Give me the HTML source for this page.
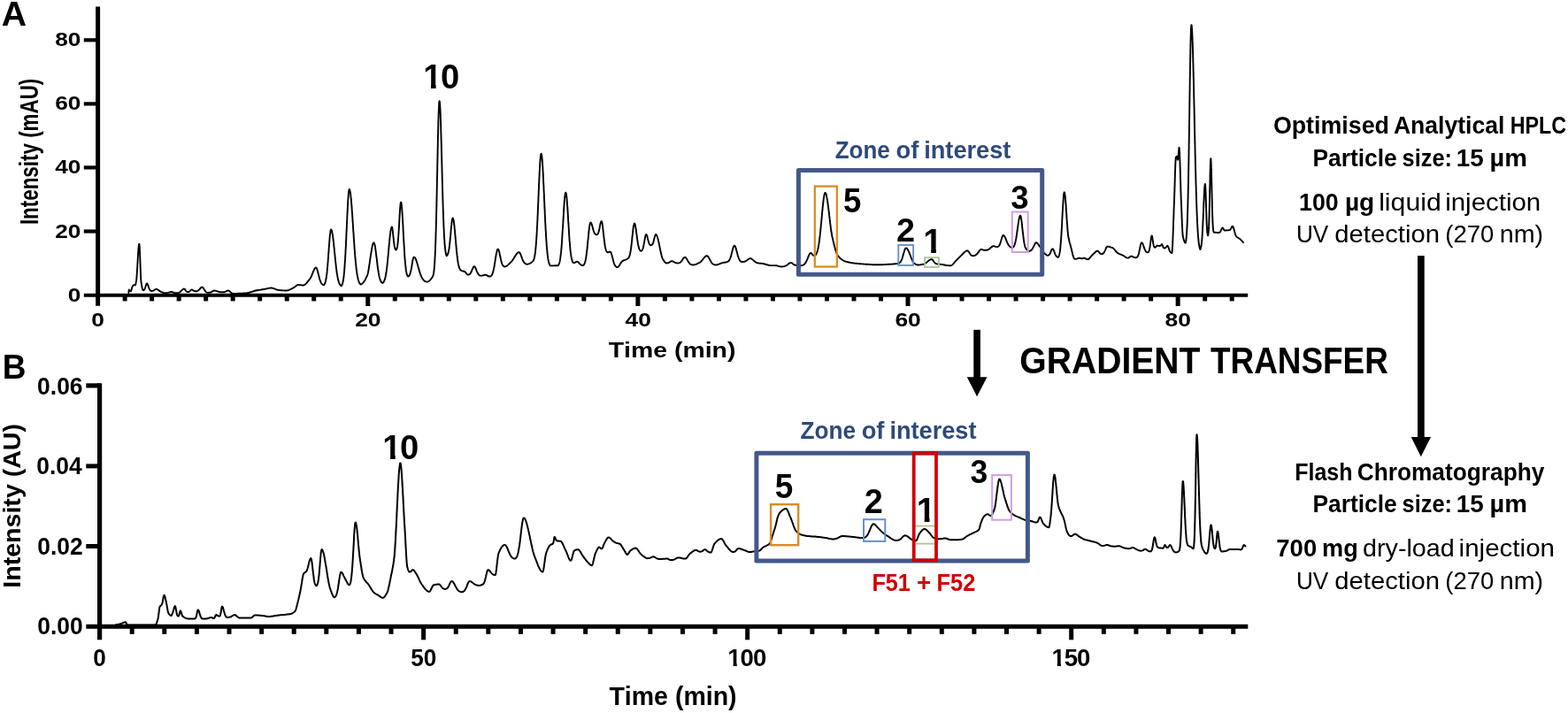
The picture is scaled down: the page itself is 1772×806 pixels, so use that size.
<!DOCTYPE html>
<html><head><meta charset="utf-8"><title>Chromatograms</title>
<style>html,body{margin:0;padding:0;background:#fff;overflow:hidden}svg{display:block}</style>
</head><body>
<svg width="1772" height="806" viewBox="0 0 1772 806">
<rect width="1772" height="806" fill="#fff"/>
<defs><clipPath id="c1_0"><rect x="828.58" y="719.68" width="4.19" height="41.40"/><rect x="823.59" y="719.68" width="5.00" height="29.50"/></clipPath><clipPath id="c1_1"><rect x="1194.73" y="719.68" width="4.19" height="41.40"/><rect x="1189.74" y="719.68" width="5.00" height="29.50"/></clipPath><clipPath id="c1_2"><rect x="486.98" y="53.86" width="5.64" height="57.30"/><rect x="480.03" y="53.86" width="6.96" height="41.14"/></clipPath><clipPath id="c1_3"><rect x="441.08" y="472.76" width="5.64" height="57.30"/><rect x="434.13" y="472.76" width="6.96" height="41.14"/></clipPath><clipPath id="c1_4"><rect x="1052.19" y="239.72" width="5.74" height="58.35"/><rect x="1045.11" y="239.72" width="7.09" height="41.91"/></clipPath><clipPath id="c1_5"><rect x="1044.74" y="543.72" width="5.74" height="58.35"/><rect x="1037.66" y="543.72" width="7.09" height="41.91"/></clipPath></defs>
<g stroke-linecap="butt">
<line x1="110.60" y1="7.40" x2="110.60" y2="345.80" stroke="#000" stroke-width="5.00"/>
<line x1="94.80" y1="45.30" x2="110.60" y2="45.30" stroke="#000" stroke-width="4.20"/>
<line x1="94.80" y1="117.40" x2="110.60" y2="117.40" stroke="#000" stroke-width="4.20"/>
<line x1="94.80" y1="189.40" x2="110.60" y2="189.40" stroke="#000" stroke-width="4.20"/>
<line x1="94.80" y1="261.50" x2="110.60" y2="261.50" stroke="#000" stroke-width="4.20"/>
<line x1="94.80" y1="333.70" x2="1410.20" y2="333.70" stroke="#000" stroke-width="4.00"/>
<line x1="141.11" y1="333.70" x2="141.11" y2="340.40" stroke="#000" stroke-width="5.00"/>
<line x1="171.63" y1="333.70" x2="171.63" y2="340.40" stroke="#000" stroke-width="5.00"/>
<line x1="202.14" y1="333.70" x2="202.14" y2="340.40" stroke="#000" stroke-width="5.00"/>
<line x1="232.66" y1="333.70" x2="232.66" y2="340.40" stroke="#000" stroke-width="5.00"/>
<line x1="263.17" y1="333.70" x2="263.17" y2="340.40" stroke="#000" stroke-width="5.00"/>
<line x1="293.68" y1="333.70" x2="293.68" y2="340.40" stroke="#000" stroke-width="5.00"/>
<line x1="324.20" y1="333.70" x2="324.20" y2="340.40" stroke="#000" stroke-width="5.00"/>
<line x1="354.71" y1="333.70" x2="354.71" y2="340.40" stroke="#000" stroke-width="5.00"/>
<line x1="385.23" y1="333.70" x2="385.23" y2="340.40" stroke="#000" stroke-width="5.00"/>
<line x1="415.74" y1="333.70" x2="415.74" y2="346.00" stroke="#000" stroke-width="5.00"/>
<line x1="446.25" y1="333.70" x2="446.25" y2="340.40" stroke="#000" stroke-width="5.00"/>
<line x1="476.77" y1="333.70" x2="476.77" y2="340.40" stroke="#000" stroke-width="5.00"/>
<line x1="507.28" y1="333.70" x2="507.28" y2="340.40" stroke="#000" stroke-width="5.00"/>
<line x1="537.80" y1="333.70" x2="537.80" y2="340.40" stroke="#000" stroke-width="5.00"/>
<line x1="568.31" y1="333.70" x2="568.31" y2="340.40" stroke="#000" stroke-width="5.00"/>
<line x1="598.82" y1="333.70" x2="598.82" y2="340.40" stroke="#000" stroke-width="5.00"/>
<line x1="629.34" y1="333.70" x2="629.34" y2="340.40" stroke="#000" stroke-width="5.00"/>
<line x1="659.85" y1="333.70" x2="659.85" y2="340.40" stroke="#000" stroke-width="5.00"/>
<line x1="690.37" y1="333.70" x2="690.37" y2="340.40" stroke="#000" stroke-width="5.00"/>
<line x1="720.88" y1="333.70" x2="720.88" y2="346.00" stroke="#000" stroke-width="5.00"/>
<line x1="751.39" y1="333.70" x2="751.39" y2="340.40" stroke="#000" stroke-width="5.00"/>
<line x1="781.91" y1="333.70" x2="781.91" y2="340.40" stroke="#000" stroke-width="5.00"/>
<line x1="812.42" y1="333.70" x2="812.42" y2="340.40" stroke="#000" stroke-width="5.00"/>
<line x1="842.94" y1="333.70" x2="842.94" y2="340.40" stroke="#000" stroke-width="5.00"/>
<line x1="873.45" y1="333.70" x2="873.45" y2="340.40" stroke="#000" stroke-width="5.00"/>
<line x1="903.96" y1="333.70" x2="903.96" y2="340.40" stroke="#000" stroke-width="5.00"/>
<line x1="934.48" y1="333.70" x2="934.48" y2="340.40" stroke="#000" stroke-width="5.00"/>
<line x1="964.99" y1="333.70" x2="964.99" y2="340.40" stroke="#000" stroke-width="5.00"/>
<line x1="995.51" y1="333.70" x2="995.51" y2="340.40" stroke="#000" stroke-width="5.00"/>
<line x1="1026.02" y1="333.70" x2="1026.02" y2="346.00" stroke="#000" stroke-width="5.00"/>
<line x1="1056.53" y1="333.70" x2="1056.53" y2="340.40" stroke="#000" stroke-width="5.00"/>
<line x1="1087.05" y1="333.70" x2="1087.05" y2="340.40" stroke="#000" stroke-width="5.00"/>
<line x1="1117.56" y1="333.70" x2="1117.56" y2="340.40" stroke="#000" stroke-width="5.00"/>
<line x1="1148.08" y1="333.70" x2="1148.08" y2="340.40" stroke="#000" stroke-width="5.00"/>
<line x1="1178.59" y1="333.70" x2="1178.59" y2="340.40" stroke="#000" stroke-width="5.00"/>
<line x1="1209.10" y1="333.70" x2="1209.10" y2="340.40" stroke="#000" stroke-width="5.00"/>
<line x1="1239.62" y1="333.70" x2="1239.62" y2="340.40" stroke="#000" stroke-width="5.00"/>
<line x1="1270.13" y1="333.70" x2="1270.13" y2="340.40" stroke="#000" stroke-width="5.00"/>
<line x1="1300.65" y1="333.70" x2="1300.65" y2="340.40" stroke="#000" stroke-width="5.00"/>
<line x1="1331.16" y1="333.70" x2="1331.16" y2="346.00" stroke="#000" stroke-width="5.00"/>
<line x1="1361.67" y1="333.70" x2="1361.67" y2="340.40" stroke="#000" stroke-width="5.00"/>
<line x1="1392.19" y1="333.70" x2="1392.19" y2="340.40" stroke="#000" stroke-width="5.00"/>
<line x1="112.60" y1="433.30" x2="112.60" y2="723.30" stroke="#000" stroke-width="5.20"/>
<line x1="97.30" y1="435.90" x2="112.60" y2="435.90" stroke="#000" stroke-width="5.20"/>
<line x1="97.30" y1="526.90" x2="112.60" y2="526.90" stroke="#000" stroke-width="5.00"/>
<line x1="97.30" y1="617.50" x2="112.60" y2="617.50" stroke="#000" stroke-width="5.00"/>
<line x1="97.30" y1="708.20" x2="1410.30" y2="708.20" stroke="#000" stroke-width="5.00"/>
<line x1="149.20" y1="708.20" x2="149.20" y2="716.80" stroke="#000" stroke-width="5.00"/>
<line x1="185.81" y1="708.20" x2="185.81" y2="716.80" stroke="#000" stroke-width="5.00"/>
<line x1="222.41" y1="708.20" x2="222.41" y2="716.80" stroke="#000" stroke-width="5.00"/>
<line x1="259.01" y1="708.20" x2="259.01" y2="716.80" stroke="#000" stroke-width="5.00"/>
<line x1="295.62" y1="708.20" x2="295.62" y2="716.80" stroke="#000" stroke-width="5.00"/>
<line x1="332.22" y1="708.20" x2="332.22" y2="716.80" stroke="#000" stroke-width="5.00"/>
<line x1="368.82" y1="708.20" x2="368.82" y2="716.80" stroke="#000" stroke-width="5.00"/>
<line x1="405.43" y1="708.20" x2="405.43" y2="716.80" stroke="#000" stroke-width="5.00"/>
<line x1="442.03" y1="708.20" x2="442.03" y2="716.80" stroke="#000" stroke-width="5.00"/>
<line x1="478.63" y1="708.20" x2="478.63" y2="723.30" stroke="#000" stroke-width="5.00"/>
<line x1="515.24" y1="708.20" x2="515.24" y2="716.80" stroke="#000" stroke-width="5.00"/>
<line x1="551.84" y1="708.20" x2="551.84" y2="716.80" stroke="#000" stroke-width="5.00"/>
<line x1="588.45" y1="708.20" x2="588.45" y2="716.80" stroke="#000" stroke-width="5.00"/>
<line x1="625.05" y1="708.20" x2="625.05" y2="716.80" stroke="#000" stroke-width="5.00"/>
<line x1="661.65" y1="708.20" x2="661.65" y2="716.80" stroke="#000" stroke-width="5.00"/>
<line x1="698.26" y1="708.20" x2="698.26" y2="716.80" stroke="#000" stroke-width="5.00"/>
<line x1="734.86" y1="708.20" x2="734.86" y2="716.80" stroke="#000" stroke-width="5.00"/>
<line x1="771.46" y1="708.20" x2="771.46" y2="716.80" stroke="#000" stroke-width="5.00"/>
<line x1="808.07" y1="708.20" x2="808.07" y2="716.80" stroke="#000" stroke-width="5.00"/>
<line x1="844.67" y1="708.20" x2="844.67" y2="723.30" stroke="#000" stroke-width="5.00"/>
<line x1="881.27" y1="708.20" x2="881.27" y2="716.80" stroke="#000" stroke-width="5.00"/>
<line x1="917.88" y1="708.20" x2="917.88" y2="716.80" stroke="#000" stroke-width="5.00"/>
<line x1="954.48" y1="708.20" x2="954.48" y2="716.80" stroke="#000" stroke-width="5.00"/>
<line x1="991.08" y1="708.20" x2="991.08" y2="716.80" stroke="#000" stroke-width="5.00"/>
<line x1="1027.69" y1="708.20" x2="1027.69" y2="716.80" stroke="#000" stroke-width="5.00"/>
<line x1="1064.29" y1="708.20" x2="1064.29" y2="716.80" stroke="#000" stroke-width="5.00"/>
<line x1="1100.89" y1="708.20" x2="1100.89" y2="716.80" stroke="#000" stroke-width="5.00"/>
<line x1="1137.50" y1="708.20" x2="1137.50" y2="716.80" stroke="#000" stroke-width="5.00"/>
<line x1="1174.10" y1="708.20" x2="1174.10" y2="716.80" stroke="#000" stroke-width="5.00"/>
<line x1="1210.70" y1="708.20" x2="1210.70" y2="723.30" stroke="#000" stroke-width="5.00"/>
<line x1="1247.31" y1="708.20" x2="1247.31" y2="716.80" stroke="#000" stroke-width="5.00"/>
<line x1="1283.91" y1="708.20" x2="1283.91" y2="716.80" stroke="#000" stroke-width="5.00"/>
<line x1="1320.52" y1="708.20" x2="1320.52" y2="716.80" stroke="#000" stroke-width="5.00"/>
<line x1="1357.12" y1="708.20" x2="1357.12" y2="716.80" stroke="#000" stroke-width="5.00"/>
<line x1="1393.72" y1="708.20" x2="1393.72" y2="716.80" stroke="#000" stroke-width="5.00"/>
<path d="M145.0 331.6L145.2 331.4 145.3 330.8 145.5 329.6 145.6 328.2 145.8 327.5 146.4 328.3 147.1 329.2 147.7 329.4 148.0 329.1 148.3 328.3 148.6 327.1 149.0 325.9 149.3 324.9 149.6 324.1 150.1 323.3 150.6 322.6 151.1 322.3 151.7 322.3 152.3 322.3 152.9 322.3 153.1 322.1 153.3 321.5 153.4 320.7 153.6 319.7 153.8 318.5 154.0 317.4 154.1 316.9 154.2 316.3 154.2 315.6 154.3 314.8 154.4 313.9 154.5 313.0 154.6 312.0 154.6 310.9 154.7 309.8 154.8 308.7 154.9 307.4 154.9 306.2 155.0 304.9 155.1 303.6 155.2 302.3 155.3 300.9 155.3 299.5 155.4 298.2 155.5 296.8 155.6 295.4 155.7 294.0 155.7 292.7 155.8 291.3 155.9 290.0 156.0 288.7 156.0 287.4 156.1 286.2 156.2 285.0 156.3 283.9 156.4 282.8 156.4 281.8 156.5 280.8 156.6 279.9 156.7 279.1 156.8 278.3 156.8 277.7 156.9 277.1 157.0 276.6 157.1 276.2 157.1 275.9 157.2 275.8 157.3 275.7 157.4 275.8 157.4 275.9 157.5 276.2 157.5 276.6 157.6 277.1 157.6 277.6 157.7 278.3 157.7 279.0 157.8 279.8 157.8 280.7 157.9 281.7 157.9 282.7 158.0 283.7 158.0 284.9 158.1 286.1 158.1 287.3 158.2 288.5 158.2 289.8 158.3 291.1 158.3 292.5 158.4 293.8 158.4 295.2 158.5 296.6 158.5 298.0 158.6 299.4 158.6 300.8 158.7 302.2 158.7 303.5 158.8 304.9 158.8 306.2 158.9 307.5 158.9 308.7 159.0 309.9 159.0 311.1 159.1 312.2 159.1 313.3 159.2 314.3 159.2 315.3 159.3 316.1 159.3 316.9 159.4 317.7 159.4 318.3 159.5 318.9 159.5 319.3 159.6 319.7 159.9 321.2 160.1 322.7 160.4 324.0 160.6 325.2 160.9 326.2 161.1 327.1 161.4 327.7 161.6 328.1 161.9 328.2 162.4 328.1 162.8 327.8 163.3 327.2 163.7 326.3 164.2 325.0 164.6 323.5 165.1 322.0 165.5 320.8 166.0 320.4 166.5 320.7 166.9 321.6 167.4 322.9 167.9 324.3 168.4 325.7 168.8 326.8 169.3 327.7 169.8 328.3 170.3 328.7 170.7 328.9 171.2 329.0 172.1 328.9 172.9 328.7 173.8 328.3 174.7 327.7 175.5 327.1 176.4 326.8 177.2 326.9 178.1 327.3 178.9 327.9 179.8 328.5 180.6 329.2 181.5 329.7 182.3 330.1 183.2 330.4 184.1 330.7 185.0 331.0 185.9 331.1 186.8 331.2 187.8 331.2 188.7 331.1 189.7 330.9 190.7 330.6 191.7 330.3 192.6 330.0 193.6 329.9 194.5 330.0 195.3 330.3 196.2 330.7 197.0 331.0 197.9 331.2 198.7 331.3 199.6 331.3 200.4 331.2 201.3 331.1 202.1 330.8 203.0 330.4 203.8 329.8 204.6 329.0 205.5 328.1 206.3 327.3 207.2 326.7 208.0 326.5 208.8 326.9 209.5 327.9 210.2 328.9 211.0 329.6 211.8 329.9 212.5 330.0 213.3 329.9 214.1 329.5 214.8 328.8 215.6 327.9 216.4 327.5 217.2 327.7 218.1 328.2 218.9 328.7 219.7 329.1 220.6 329.2 221.4 329.3 222.2 329.2 222.9 329.0 223.7 328.7 224.5 328.1 225.2 327.4 226.0 326.4 226.8 325.5 227.5 324.8 228.3 324.5 229.0 324.8 229.7 325.6 230.4 326.7 231.1 327.8 231.8 328.9 232.5 329.7 233.2 330.3 233.9 330.6 234.6 330.8 235.3 330.9 236.2 330.8 237.0 330.7 237.9 330.5 238.8 330.1 239.6 329.6 240.5 329.1 241.3 328.7 242.2 328.5 243.1 328.6 244.0 328.8 244.9 329.1 245.8 329.4 246.7 329.7 247.6 330.0 248.5 330.1 249.4 330.2 250.3 330.3 251.2 330.3 252.1 330.3 252.9 330.2 253.8 330.0 254.7 329.7 255.5 329.4 256.4 328.9 257.2 328.6 258.1 328.5 258.9 328.8 259.8 329.6 260.6 330.4 261.5 331.1 262.3 331.6 263.2 331.8 264.0 331.9 264.9 331.9 265.9 331.9 266.8 331.9 267.8 331.9 268.7 331.8 269.6 331.8 270.6 331.8 271.5 331.7 272.4 331.7 273.4 331.7 274.3 331.6 275.2 331.5 276.2 331.5 277.1 331.4 278.1 331.4 279.0 331.3 279.9 331.2 280.8 331.0 281.7 330.8 282.6 330.5 283.5 330.2 284.4 329.9 285.3 329.6 286.2 329.3 287.1 329.0 288.0 328.7 288.9 328.5 289.8 328.3 290.7 328.2 291.6 328.0 292.5 327.9 293.4 327.7 294.3 327.6 295.2 327.5 296.1 327.3 297.0 327.2 297.9 327.0 298.8 326.9 299.7 326.7 300.6 326.5 301.4 326.3 302.3 326.1 303.2 325.9 304.1 325.8 304.9 325.6 305.8 325.5 306.7 325.5 307.6 325.6 308.5 325.8 309.4 326.1 310.3 326.4 311.1 326.8 312.0 327.1 312.9 327.5 313.8 327.7 314.7 327.9 315.7 328.0 316.7 328.1 317.7 328.2 318.7 328.3 319.6 328.4 320.6 328.4 321.6 328.5 322.6 328.5 323.6 328.5 324.5 328.4 325.4 328.2 326.2 328.0 327.1 327.6 328.0 327.2 328.9 326.8 329.7 326.3 330.6 325.9 331.5 325.4 332.3 324.8 333.2 324.2 334.1 323.5 334.9 322.9 335.8 322.4 336.6 322.0 337.5 321.9 338.3 322.0 339.2 322.1 340.0 322.3 340.8 322.4 341.7 322.5 342.5 322.5 343.2 322.4 343.9 322.1 344.7 321.7 345.4 321.1 346.1 320.4 346.8 319.6 347.5 318.7 348.2 317.8 349.0 316.9 349.7 315.9 350.4 315.0 350.8 314.4 351.3 313.5 351.7 312.6 352.2 311.6 352.6 310.5 353.0 309.4 353.5 308.3 353.9 307.1 354.4 306.1 354.8 305.1 355.2 304.3 355.7 303.5 356.1 303.0 356.6 302.6 357.0 302.5 357.4 302.7 357.8 303.2 358.2 304.1 358.6 305.3 359.0 306.7 359.4 308.2 359.8 309.8 360.2 311.5 360.6 313.1 361.0 314.6 361.4 316.0 361.9 317.3 362.3 318.4 362.7 319.3 363.1 320.1 363.5 320.7 363.9 321.2 364.3 321.5 364.7 321.8 365.1 322.0 365.5 322.2 365.9 322.3 366.0 322.2 366.2 322.1 366.3 321.9 366.4 321.8 366.5 321.6 366.7 321.4 366.8 321.2 366.9 321.0 367.1 320.7 367.2 320.4 367.3 320.1 367.5 319.7 367.6 319.4 367.7 318.9 367.8 318.5 368.0 317.9 368.1 317.4 368.2 316.8 368.4 316.1 368.5 315.4 368.6 314.7 368.8 313.8 368.9 313.0 369.0 312.0 369.1 311.0 369.3 310.0 369.4 308.9 369.5 307.7 369.7 306.4 369.8 305.1 369.9 303.8 370.0 302.4 370.2 300.9 370.3 299.3 370.4 297.8 370.6 296.1 370.7 294.5 370.8 292.7 371.0 291.0 371.1 289.2 371.2 287.4 371.3 285.6 371.5 283.8 371.6 282.0 371.7 280.2 371.9 278.5 372.0 276.7 372.1 275.0 372.3 273.3 372.4 271.7 372.5 270.2 372.6 268.7 372.8 267.3 372.9 266.0 373.0 264.8 373.2 263.7 373.3 262.7 373.4 261.9 373.6 261.1 373.7 260.5 373.8 260.0 373.9 259.7 374.1 259.5 374.2 259.4 374.4 259.5 374.6 259.7 374.7 260.0 374.9 260.5 375.1 261.1 375.3 261.8 375.4 262.7 375.6 263.7 375.8 264.7 376.0 265.9 376.2 267.2 376.3 268.6 376.5 270.0 376.7 271.6 376.9 273.2 377.1 274.8 377.2 276.5 377.4 278.3 377.6 280.0 377.8 281.8 377.9 283.6 378.1 285.4 378.3 287.2 378.5 289.0 378.7 290.8 378.8 292.6 379.0 294.3 379.2 296.0 379.4 297.6 379.6 299.2 379.7 300.8 379.9 302.3 380.1 303.8 380.3 305.2 380.4 306.5 380.6 307.8 380.8 309.0 381.0 310.1 381.2 311.2 381.3 312.3 381.5 313.2 381.7 314.1 381.9 315.0 382.1 315.8 382.2 316.5 382.4 317.2 382.6 317.9 382.8 318.5 382.9 319.0 383.1 319.5 383.3 320.0 383.5 320.4 383.7 320.8 383.8 321.1 384.0 321.4 384.2 321.7 384.4 322.0 384.6 322.2 384.7 322.4 384.9 322.6 385.1 322.8 385.3 322.9 385.4 323.1 385.6 323.2 385.8 323.3 385.9 323.2 386.0 323.1 386.0 323.0 386.1 322.8 386.2 322.7 386.3 322.5 386.4 322.4 386.5 322.2 386.5 322.0 386.6 321.8 386.7 321.6 386.8 321.4 386.9 321.2 386.9 320.9 387.0 320.7 387.1 320.4 387.2 320.1 387.3 319.8 387.4 319.4 387.4 319.1 387.5 318.7 387.6 318.3 387.7 317.9 387.8 317.5 387.8 317.0 387.9 316.5 388.0 316.0 388.1 315.5 388.2 314.9 388.3 314.3 388.3 313.7 388.4 313.0 388.5 312.3 388.6 311.6 388.7 310.9 388.7 310.1 388.8 309.3 388.9 308.5 389.0 307.6 389.1 306.7 389.2 305.7 389.2 304.7 389.3 303.7 389.4 302.7 389.5 301.6 389.6 300.4 389.6 299.3 389.7 298.1 389.8 296.8 389.9 295.6 390.0 294.2 390.1 292.9 390.1 291.5 390.2 290.1 390.3 288.6 390.4 287.2 390.5 285.6 390.5 284.1 390.6 282.5 390.7 280.9 390.8 279.3 390.9 277.6 391.0 275.9 391.0 274.2 391.1 272.5 391.2 270.7 391.3 269.0 391.4 267.2 391.4 265.4 391.5 263.6 391.6 261.7 391.7 259.9 391.8 258.1 391.9 256.3 391.9 254.4 392.0 252.6 392.1 250.8 392.2 249.0 392.3 247.2 392.3 245.4 392.4 243.7 392.5 242.0 392.6 240.2 392.7 238.6 392.8 236.9 392.8 235.3 392.9 233.7 393.0 232.2 393.1 230.7 393.2 229.3 393.2 227.9 393.3 226.5 393.4 225.3 393.5 224.0 393.6 222.9 393.7 221.8 393.7 220.7 393.8 219.8 393.9 218.9 394.0 218.0 394.1 217.3 394.1 216.6 394.2 216.0 394.3 215.5 394.4 215.0 394.5 214.7 394.6 214.4 394.6 214.2 394.7 214.0 394.8 214.0 394.9 214.0 395.0 214.2 395.1 214.4 395.3 214.7 395.4 215.0 395.5 215.5 395.6 216.0 395.7 216.6 395.8 217.3 396.0 218.0 396.1 218.9 396.2 219.8 396.3 220.7 396.4 221.8 396.5 222.9 396.7 224.0 396.8 225.3 396.9 226.6 397.0 227.9 397.1 229.3 397.2 230.7 397.4 232.2 397.5 233.7 397.6 235.3 397.7 236.9 397.8 238.6 397.9 240.2 398.1 241.9 398.2 243.7 398.3 245.4 398.4 247.2 398.5 248.9 398.6 250.7 398.8 252.5 398.9 254.4 399.0 256.2 399.1 258.0 399.2 259.8 399.3 261.6 399.5 263.4 399.6 265.2 399.7 267.0 399.8 268.7 399.9 270.5 400.0 272.2 400.2 273.9 400.3 275.6 400.4 277.3 400.5 278.9 400.6 280.5 400.7 282.1 400.9 283.7 401.0 285.2 401.1 286.7 401.2 288.1 401.3 289.6 401.4 291.0 401.6 292.3 401.7 293.6 401.8 294.9 401.9 296.2 402.0 297.4 402.1 298.5 402.3 299.7 402.4 300.8 402.5 301.8 402.6 302.9 402.7 303.8 402.8 304.8 403.0 305.7 403.1 306.6 403.2 307.4 403.3 308.3 403.4 309.0 403.5 309.8 403.7 310.5 403.8 311.2 403.9 311.9 404.0 312.5 404.1 313.1 404.2 313.6 404.4 314.2 404.5 314.7 404.6 315.2 404.7 315.7 404.8 316.1 404.9 316.5 405.1 316.9 405.2 317.3 405.3 317.7 405.4 318.0 405.5 318.3 405.6 318.6 405.8 318.9 405.9 319.1 406.0 319.4 406.1 319.6 406.2 319.8 406.3 320.1 406.5 320.2 406.6 320.4 406.7 320.6 406.8 320.8 406.9 320.9 407.0 321.0 407.2 321.2 407.3 321.3 407.4 321.4 407.5 321.5 408.1 321.4 408.7 321.1 409.3 320.7 409.9 320.1 410.5 319.4 411.1 318.6 411.8 317.7 412.4 316.7 413.0 315.6 413.6 314.4 414.2 313.2 414.8 312.0 415.0 311.5 415.2 311.0 415.4 310.3 415.6 309.6 415.8 308.8 416.0 307.9 416.2 306.9 416.4 305.9 416.6 304.8 416.7 303.6 416.9 302.4 417.1 301.2 417.3 299.9 417.5 298.6 417.7 297.3 417.9 295.9 418.1 294.6 418.3 293.2 418.5 291.9 418.7 290.5 418.9 289.2 419.1 287.9 419.3 286.6 419.5 285.3 419.7 284.1 419.9 282.9 420.1 281.8 420.3 280.7 420.5 279.7 420.6 278.8 420.8 277.9 421.0 277.1 421.2 276.4 421.4 275.8 421.6 275.3 421.8 274.8 422.0 274.5 422.2 274.4 422.4 274.3 422.6 274.4 422.8 274.7 423.0 275.1 423.2 275.8 423.5 276.6 423.7 277.6 423.9 278.7 424.1 279.9 424.3 281.3 424.5 282.8 424.7 284.4 424.9 286.0 425.1 287.8 425.3 289.5 425.6 291.3 425.8 293.1 426.0 294.9 426.2 296.6 426.4 298.4 426.6 300.1 426.8 301.7 427.0 303.3 427.2 304.8 427.5 306.2 427.7 307.6 427.9 308.9 428.1 310.0 428.3 311.2 428.5 312.2 428.7 313.1 428.9 314.0 429.1 314.8 429.4 315.5 429.6 316.1 429.8 316.7 430.0 317.2 430.2 317.7 430.4 318.1 430.6 318.4 430.8 318.7 431.0 319.0 431.2 319.2 431.5 319.4 431.7 319.6 431.9 319.8 432.1 319.9 432.3 320.0 432.5 319.9 432.6 319.8 432.8 319.6 432.9 319.5 433.1 319.3 433.3 319.1 433.4 318.9 433.6 318.7 433.8 318.4 433.9 318.1 434.1 317.8 434.2 317.5 434.4 317.1 434.6 316.7 434.7 316.2 434.9 315.7 435.0 315.2 435.2 314.6 435.4 314.0 435.5 313.3 435.7 312.5 435.9 311.7 436.0 310.9 436.2 310.0 436.3 309.0 436.5 308.0 436.7 306.9 436.8 305.8 437.0 304.5 437.1 303.3 437.3 301.9 437.5 300.6 437.6 299.1 437.8 297.6 438.0 296.1 438.1 294.5 438.3 292.8 438.4 291.1 438.6 289.4 438.8 287.7 438.9 285.9 439.1 284.1 439.2 282.3 439.4 280.5 439.6 278.7 439.7 276.9 439.9 275.2 440.1 273.4 440.2 271.7 440.4 270.1 440.5 268.5 440.7 267.0 440.9 265.5 441.0 264.2 441.2 262.9 441.3 261.7 441.5 260.6 441.7 259.7 441.8 258.8 442.0 258.1 442.2 257.5 442.3 257.0 442.5 256.7 442.6 256.5 442.8 256.4 443.0 256.6 443.2 257.0 443.3 257.8 443.5 258.9 443.7 260.2 443.9 261.7 444.0 263.3 444.2 265.0 444.4 266.8 444.6 268.6 444.8 270.3 444.9 272.0 445.1 273.6 445.3 275.0 445.5 276.3 445.6 277.4 445.8 278.4 446.0 279.3 446.2 280.0 446.4 280.7 446.5 281.2 446.7 281.6 446.9 281.9 447.1 282.1 447.2 282.3 447.4 282.5 447.6 282.6 447.7 282.5 447.8 282.4 447.9 282.2 448.0 282.1 448.1 281.9 448.2 281.7 448.3 281.4 448.4 281.2 448.5 280.9 448.6 280.5 448.7 280.1 448.8 279.7 448.9 279.2 449.0 278.7 449.1 278.2 449.2 277.5 449.3 276.8 449.4 276.1 449.5 275.3 449.6 274.4 449.7 273.4 449.8 272.4 449.9 271.3 450.0 270.1 450.1 268.9 450.2 267.6 450.3 266.2 450.4 264.7 450.5 263.2 450.6 261.7 450.7 260.0 450.8 258.3 450.9 256.6 451.0 254.9 451.1 253.1 451.2 251.3 451.3 249.5 451.4 247.7 451.5 245.9 451.6 244.1 451.7 242.4 451.8 240.7 451.9 239.1 452.0 237.6 452.1 236.1 452.2 234.8 452.3 233.6 452.4 232.4 452.5 231.4 452.6 230.6 452.7 229.9 452.8 229.3 452.9 228.9 453.0 228.7 453.1 228.6 453.2 228.7 453.3 228.8 453.4 229.1 453.5 229.4 453.6 229.9 453.7 230.5 453.8 231.2 453.9 231.9 453.9 232.8 454.0 233.7 454.1 234.8 454.2 235.9 454.3 237.1 454.4 238.4 454.5 239.7 454.6 241.1 454.7 242.6 454.8 244.1 454.9 245.7 455.0 247.3 455.1 249.0 455.2 250.7 455.3 252.4 455.4 254.2 455.5 256.0 455.5 257.8 455.6 259.6 455.7 261.4 455.8 263.2 455.9 265.0 456.0 266.9 456.1 268.7 456.2 270.4 456.3 272.2 456.4 273.9 456.5 275.6 456.6 277.3 456.7 279.0 456.8 280.6 456.9 282.2 457.0 283.7 457.1 285.2 457.1 286.7 457.2 288.1 457.3 289.5 457.4 290.8 457.5 292.1 457.6 293.3 457.7 294.5 457.8 295.6 457.9 296.7 458.0 297.8 458.1 298.8 458.2 299.7 458.3 300.6 458.4 301.5 458.5 302.3 458.6 303.1 458.7 303.8 458.7 304.5 458.8 305.2 458.9 305.8 459.0 306.4 459.1 306.9 459.2 307.4 459.3 307.9 459.4 308.4 459.5 308.8 459.6 309.2 459.7 309.5 459.8 309.9 459.9 310.2 460.0 310.5 460.1 310.7 460.2 311.0 460.3 311.2 460.3 311.4 460.4 311.6 460.5 311.8 460.6 312.0 460.7 312.1 460.8 312.3 460.9 312.4 461.0 312.5 461.1 312.6 461.4 312.5 461.7 312.3 462.0 312.1 462.3 311.8 462.6 311.4 462.8 310.9 463.1 310.3 463.4 309.6 463.7 308.6 464.0 307.6 464.3 306.3 464.6 304.9 464.9 303.3 465.2 301.7 465.5 299.9 465.8 298.2 466.1 296.5 466.3 294.9 466.6 293.4 466.9 292.2 467.2 291.3 467.5 290.8 467.8 290.6 468.3 290.7 468.7 291.1 469.2 291.7 469.6 292.5 470.1 293.5 470.5 294.7 471.0 296.1 471.4 297.5 471.9 299.1 472.3 300.7 472.8 302.3 473.2 303.9 473.7 305.4 474.1 306.9 474.6 308.4 475.1 309.7 475.5 311.0 476.0 312.1 476.4 313.1 476.9 314.0 477.3 314.8 477.8 315.5 478.2 316.1 478.7 316.7 479.1 317.1 479.6 317.5 480.0 317.8 480.5 318.0 480.9 318.2 481.4 318.4 481.8 318.5 482.3 318.6 483.0 318.5 483.7 318.3 484.4 318.0 485.1 317.5 485.8 316.9 486.5 316.1 487.2 315.3 487.9 314.3 488.6 313.2 489.3 312.0 489.3 311.9 489.4 311.8 489.4 311.7 489.4 311.6 489.5 311.4 489.5 311.3 489.6 311.2 489.6 311.0 489.6 310.9 489.7 310.8 489.7 310.6 489.7 310.5 489.8 310.3 489.8 310.1 489.9 309.9 489.9 309.8 489.9 309.6 490.0 309.4 490.0 309.2 490.0 309.0 490.1 308.7 490.1 308.5 490.1 308.3 490.2 308.0 490.2 307.8 490.3 307.5 490.3 307.2 490.3 307.0 490.4 306.7 490.4 306.4 490.4 306.1 490.5 305.8 490.5 305.4 490.6 305.1 490.6 304.7 490.6 304.4 490.7 304.0 490.7 303.6 490.7 303.2 490.8 302.8 490.8 302.4 490.8 302.0 490.9 301.5 490.9 301.1 491.0 300.6 491.0 300.1 491.0 299.6 491.1 299.1 491.1 298.6 491.1 298.0 491.2 297.5 491.2 296.9 491.3 296.3 491.3 295.7 491.3 295.1 491.4 294.5 491.4 293.8 491.4 293.1 491.5 292.4 491.5 291.7 491.5 291.0 491.6 290.3 491.6 289.5 491.7 288.8 491.7 288.0 491.7 287.2 491.8 286.3 491.8 285.5 491.8 284.6 491.9 283.7 491.9 282.8 492.0 281.9 492.0 280.9 492.0 280.0 492.1 279.0 492.1 278.0 492.1 277.0 492.2 275.9 492.2 274.9 492.2 273.8 492.3 272.7 492.3 271.5 492.4 270.4 492.4 269.2 492.4 268.0 492.5 266.8 492.5 265.6 492.5 264.3 492.6 263.1 492.6 261.8 492.7 260.5 492.7 259.1 492.7 257.8 492.8 256.4 492.8 255.0 492.8 253.6 492.9 252.2 492.9 250.8 493.0 249.3 493.0 247.8 493.0 246.3 493.1 244.8 493.1 243.2 493.1 241.7 493.2 240.1 493.2 238.5 493.2 236.9 493.3 235.3 493.3 233.6 493.4 232.0 493.4 230.3 493.4 228.6 493.5 226.9 493.5 225.2 493.5 223.5 493.6 221.8 493.6 220.0 493.7 218.3 493.7 216.5 493.7 214.7 493.8 212.9 493.8 211.1 493.8 209.3 493.9 207.5 493.9 205.7 493.9 203.9 494.0 202.1 494.0 200.2 494.1 198.4 494.1 196.6 494.1 194.7 494.2 192.9 494.2 191.1 494.2 189.2 494.3 187.4 494.3 185.6 494.4 183.7 494.4 181.9 494.4 180.1 494.5 178.3 494.5 176.5 494.5 174.7 494.6 172.9 494.6 171.1 494.6 169.3 494.7 167.6 494.7 165.8 494.8 164.1 494.8 162.4 494.8 160.7 494.9 159.0 494.9 157.3 494.9 155.7 495.0 154.1 495.0 152.4 495.1 150.9 495.1 149.3 495.1 147.8 495.2 146.2 495.2 144.8 495.2 143.3 495.3 141.8 495.3 140.4 495.3 139.1 495.4 137.7 495.4 136.4 495.5 135.1 495.5 133.8 495.5 132.6 495.6 131.4 495.6 130.3 495.6 129.1 495.7 128.0 495.7 127.0 495.8 126.0 495.8 125.0 495.8 124.1 495.9 123.2 495.9 122.3 495.9 121.5 496.0 120.7 496.0 120.0 496.0 119.3 496.1 118.6 496.1 118.0 496.2 117.5 496.2 117.0 496.2 116.5 496.3 116.1 496.3 115.7 496.3 115.3 496.4 115.0 496.4 114.8 496.5 114.6 496.5 114.4 496.5 114.3 496.6 114.2 496.6 114.2 496.6 114.2 496.7 114.3 496.7 114.4 496.8 114.6 496.8 114.8 496.9 115.1 496.9 115.5 497.0 115.8 497.0 116.3 497.1 116.8 497.1 117.3 497.2 117.9 497.2 118.5 497.2 119.2 497.3 119.9 497.3 120.7 497.4 121.5 497.4 122.3 497.5 123.2 497.5 124.2 497.6 125.2 497.6 126.2 497.7 127.3 497.7 128.4 497.8 129.6 497.8 130.8 497.8 132.0 497.9 133.3 497.9 134.6 498.0 135.9 498.0 137.3 498.1 138.7 498.1 140.1 498.2 141.6 498.2 143.0 498.3 144.6 498.3 146.1 498.3 147.7 498.4 149.3 498.4 150.9 498.5 152.5 498.5 154.2 498.6 155.9 498.6 157.6 498.7 159.3 498.7 161.0 498.8 162.8 498.8 164.5 498.9 166.3 498.9 168.1 498.9 169.9 499.0 171.7 499.0 173.5 499.1 175.3 499.1 177.1 499.2 179.0 499.2 180.8 499.3 182.6 499.3 184.4 499.4 186.3 499.4 188.1 499.5 189.9 499.5 191.7 499.5 193.6 499.6 195.4 499.6 197.2 499.7 199.0 499.7 200.8 499.8 202.6 499.8 204.3 499.9 206.1 499.9 207.8 500.0 209.6 500.0 211.3 500.1 213.0 500.1 214.7 500.1 216.4 500.2 218.0 500.2 219.7 500.3 221.3 500.3 222.9 500.4 224.5 500.4 226.1 500.5 227.7 500.5 229.2 500.6 230.7 500.6 232.2 500.6 233.7 500.7 235.2 500.7 236.6 500.8 238.0 500.8 239.4 500.9 240.8 500.9 242.1 501.0 243.5 501.0 244.8 501.1 246.1 501.1 247.3 501.2 248.6 501.2 249.8 501.2 251.0 501.3 252.1 501.3 253.3 501.4 254.4 501.4 255.5 501.5 256.6 501.5 257.6 501.6 258.7 501.6 259.7 501.7 260.7 501.7 261.6 501.8 262.6 501.8 263.5 501.8 264.4 501.9 265.3 501.9 266.1 502.0 266.9 502.0 267.8 502.1 268.5 502.1 269.3 502.2 270.1 502.2 270.8 502.3 271.5 502.3 272.2 502.4 272.9 502.4 273.5 502.4 274.2 502.5 274.8 502.5 275.4 502.6 276.0 502.6 276.5 502.7 277.1 502.7 277.6 502.8 278.1 502.8 278.6 502.9 279.1 502.9 279.6 503.0 280.0 503.0 280.5 503.0 280.9 503.1 281.3 503.1 281.7 503.2 282.1 503.2 282.5 503.3 282.8 503.3 283.2 503.4 283.5 503.4 283.8 503.5 284.1 503.5 284.4 503.5 284.7 503.6 285.0 503.6 285.3 503.7 285.5 503.7 285.8 503.8 286.0 503.8 286.2 503.9 286.5 503.9 286.7 504.0 286.9 504.0 287.1 504.1 287.3 504.1 287.4 504.1 287.6 504.2 287.8 504.2 287.9 504.3 288.1 504.3 288.2 504.4 288.4 504.4 288.5 504.5 288.6 504.5 288.8 504.6 288.9 504.6 289.0 504.7 289.1 504.7 289.2 504.9 289.1 505.0 289.0 505.2 288.8 505.3 288.6 505.5 288.4 505.7 288.2 505.8 287.9 506.0 287.6 506.1 287.2 506.3 286.7 506.4 286.2 506.6 285.7 506.8 285.1 506.9 284.3 507.1 283.6 507.2 282.7 507.4 281.7 507.6 280.7 507.7 279.6 507.9 278.4 508.0 277.1 508.2 275.7 508.4 274.2 508.5 272.6 508.7 271.0 508.8 269.3 509.0 267.6 509.2 265.9 509.3 264.1 509.5 262.3 509.6 260.5 509.8 258.8 509.9 257.1 510.1 255.5 510.3 253.9 510.4 252.5 510.6 251.1 510.7 250.0 510.9 248.9 511.1 248.1 511.2 247.4 511.4 246.9 511.5 246.6 511.7 246.5 511.9 246.6 512.0 246.8 512.2 247.2 512.3 247.7 512.5 248.3 512.6 249.1 512.8 250.1 512.9 251.1 513.1 252.3 513.2 253.5 513.4 254.9 513.6 256.4 513.7 257.9 513.9 259.5 514.0 261.2 514.2 262.9 514.3 264.7 514.5 266.4 514.6 268.2 514.8 270.1 515.0 271.9 515.1 273.7 515.3 275.5 515.4 277.2 515.6 279.0 515.7 280.6 515.9 282.3 516.0 283.9 516.2 285.4 516.4 286.9 516.5 288.4 516.7 289.7 516.8 291.0 517.0 292.3 517.1 293.4 517.3 294.5 517.4 295.6 517.6 296.5 517.7 297.4 517.9 298.3 518.1 299.0 518.2 299.8 518.4 300.4 518.5 301.0 518.7 301.6 518.8 302.1 519.0 302.6 519.1 303.0 519.3 303.4 519.5 303.7 519.6 304.0 519.8 304.3 519.9 304.6 520.1 304.8 520.2 305.0 520.4 305.2 520.5 305.3 520.7 305.5 520.8 305.6 521.0 305.7 521.8 306.1 522.6 306.3 523.4 306.5 524.2 306.7 525.0 307.0 525.7 307.5 526.3 308.2 527.0 309.0 527.7 309.8 528.3 310.4 529.0 310.6 529.6 310.5 530.1 310.3 530.7 309.9 531.3 309.4 531.9 308.6 532.5 307.6 533.0 306.3 533.6 304.9 534.2 303.5 534.8 302.2 535.3 301.4 535.9 301.1 536.5 301.4 537.0 302.2 537.6 303.4 538.2 304.8 538.7 306.3 539.3 307.6 539.9 308.8 540.5 309.8 541.0 310.5 541.6 311.0 542.2 311.3 542.7 311.5 543.3 311.6 544.2 311.6 545.1 311.5 546.0 311.3 547.0 311.0 547.9 310.7 548.8 310.6 549.6 310.8 550.5 311.4 551.3 312.0 552.1 312.3 553.0 312.5 553.8 312.6 554.1 312.5 554.3 312.4 554.6 312.2 554.9 312.0 555.1 311.7 555.4 311.4 555.7 311.0 556.0 310.6 556.2 310.0 556.5 309.4 556.8 308.7 557.0 307.9 557.3 306.9 557.6 305.9 557.8 304.7 558.1 303.5 558.4 302.1 558.7 300.6 558.9 299.0 559.2 297.4 559.5 295.7 559.7 293.9 560.0 292.2 560.3 290.5 560.5 288.9 560.8 287.3 561.1 285.9 561.4 284.7 561.6 283.6 561.9 282.7 562.2 282.1 562.4 281.7 562.7 281.6 563.0 281.8 563.4 282.3 563.7 283.2 564.1 284.4 564.4 285.8 564.7 287.3 565.1 289.0 565.4 290.6 565.8 292.2 566.1 293.8 566.5 295.2 566.8 296.4 567.1 297.5 567.5 298.5 567.8 299.2 568.2 299.9 568.5 300.4 568.8 300.7 569.2 301.0 569.5 301.2 569.9 301.4 570.2 301.5 570.9 301.4 571.7 301.2 572.4 300.8 573.2 300.2 573.9 299.6 574.6 299.0 575.4 298.3 576.1 297.5 576.9 296.8 577.6 296.1 578.2 295.5 578.8 294.8 579.4 293.9 580.0 293.0 580.6 292.1 581.2 291.1 581.8 290.1 582.3 289.2 582.9 288.3 583.5 287.4 584.1 286.7 584.7 286.1 585.3 285.6 585.9 285.3 586.5 285.2 587.0 285.4 587.6 286.0 588.1 287.0 588.6 288.2 589.1 289.6 589.7 291.1 590.2 292.5 590.7 293.8 591.3 295.0 591.8 296.0 592.3 296.8 592.9 297.4 593.4 297.9 593.9 298.2 594.4 298.4 595.0 298.6 595.5 298.7 596.4 298.6 597.2 298.4 598.1 298.1 599.0 297.7 599.8 297.2 600.7 296.6 601.5 295.9 602.4 295.1 602.5 295.0 602.6 294.9 602.6 294.8 602.7 294.6 602.8 294.5 602.9 294.4 602.9 294.2 603.0 294.1 603.1 293.9 603.2 293.7 603.2 293.5 603.3 293.3 603.4 293.1 603.5 292.9 603.5 292.6 603.6 292.4 603.7 292.1 603.8 291.8 603.8 291.5 603.9 291.2 604.0 290.8 604.1 290.5 604.1 290.1 604.2 289.7 604.3 289.3 604.4 288.9 604.4 288.5 604.5 288.0 604.6 287.5 604.7 287.0 604.7 286.4 604.8 285.9 604.9 285.3 605.0 284.7 605.0 284.0 605.1 283.4 605.2 282.7 605.3 281.9 605.3 281.2 605.4 280.4 605.5 279.6 605.6 278.7 605.6 277.9 605.7 277.0 605.8 276.0 605.9 275.1 605.9 274.1 606.0 273.0 606.1 272.0 606.2 270.9 606.2 269.7 606.3 268.6 606.4 267.4 606.5 266.2 606.5 264.9 606.6 263.6 606.7 262.3 606.8 260.9 606.8 259.5 606.9 258.1 607.0 256.6 607.1 255.2 607.2 253.6 607.2 252.1 607.3 250.5 607.4 248.9 607.5 247.3 607.5 245.7 607.6 244.0 607.7 242.3 607.8 240.6 607.8 238.9 607.9 237.1 608.0 235.3 608.1 233.6 608.1 231.8 608.2 230.0 608.3 228.1 608.4 226.3 608.4 224.5 608.5 222.7 608.6 220.8 608.7 219.0 608.7 217.2 608.8 215.4 608.9 213.6 609.0 211.8 609.0 210.0 609.1 208.2 609.2 206.5 609.3 204.7 609.3 203.0 609.4 201.3 609.5 199.7 609.6 198.1 609.6 196.5 609.7 194.9 609.8 193.4 609.9 191.9 609.9 190.5 610.0 189.1 610.1 187.8 610.2 186.5 610.2 185.2 610.3 184.1 610.4 182.9 610.5 181.9 610.5 180.9 610.6 179.9 610.7 179.0 610.8 178.2 610.8 177.5 610.9 176.8 611.0 176.2 611.1 175.6 611.1 175.1 611.2 174.7 611.3 174.4 611.4 174.1 611.4 173.9 611.5 173.8 611.6 173.8 611.7 173.8 611.8 173.9 611.8 174.1 611.9 174.4 612.0 174.7 612.1 175.1 612.2 175.5 612.2 176.0 612.3 176.6 612.4 177.3 612.5 178.0 612.6 178.8 612.6 179.6 612.7 180.5 612.8 181.5 612.9 182.5 613.0 183.6 613.0 184.7 613.1 185.9 613.2 187.1 613.3 188.4 613.4 189.7 613.4 191.1 613.5 192.5 613.6 194.0 613.7 195.5 613.8 197.0 613.8 198.6 613.9 200.2 614.0 201.8 614.1 203.5 614.1 205.2 614.2 206.9 614.3 208.6 614.4 210.4 614.5 212.1 614.5 213.9 614.6 215.7 614.7 217.5 614.8 219.3 614.9 221.1 614.9 223.0 615.0 224.8 615.1 226.6 615.2 228.4 615.3 230.2 615.3 232.0 615.4 233.8 615.5 235.6 615.6 237.4 615.7 239.2 615.7 240.9 615.8 242.6 615.9 244.4 616.0 246.0 616.1 247.7 616.1 249.4 616.2 251.0 616.3 252.6 616.4 254.2 616.5 255.8 616.5 257.3 616.6 258.8 616.7 260.3 616.8 261.7 616.9 263.1 616.9 264.5 617.0 265.9 617.1 267.2 617.2 268.5 617.3 269.8 617.3 271.0 617.4 272.2 617.5 273.4 617.6 274.5 617.7 275.6 617.7 276.7 617.8 277.7 617.9 278.8 618.0 279.7 618.1 280.7 618.1 281.6 618.2 282.5 618.3 283.4 618.4 284.2 618.5 285.0 618.5 285.8 618.6 286.6 618.7 287.3 618.8 288.0 618.9 288.7 618.9 289.3 619.0 289.9 619.1 290.5 619.2 291.1 619.2 291.6 619.3 292.2 619.4 292.7 619.5 293.1 619.6 293.6 619.6 294.1 619.7 294.5 619.8 294.9 619.9 295.3 620.0 295.6 620.0 296.0 620.1 296.3 620.2 296.6 620.3 296.9 620.4 297.2 620.4 297.5 620.5 297.7 620.6 298.0 620.7 298.2 620.8 298.4 620.8 298.6 620.9 298.8 621.0 299.0 621.1 299.2 621.2 299.4 621.2 299.5 621.3 299.7 621.4 299.8 621.5 299.9 621.6 300.1 621.6 300.2 621.7 300.3 621.8 300.4 622.8 300.4 623.8 300.4 624.7 300.4 625.7 300.4 626.7 300.3 627.7 300.3 628.6 300.3 629.6 300.2 630.6 300.2 630.7 300.1 630.8 300.0 630.9 299.9 631.0 299.7 631.1 299.6 631.2 299.4 631.3 299.2 631.4 299.0 631.5 298.8 631.6 298.6 631.8 298.3 631.9 298.0 632.0 297.7 632.1 297.4 632.2 297.1 632.3 296.7 632.4 296.3 632.5 295.8 632.6 295.4 632.7 294.9 632.8 294.4 632.9 293.8 633.0 293.2 633.1 292.5 633.2 291.9 633.3 291.1 633.4 290.4 633.5 289.6 633.6 288.7 633.7 287.8 633.8 286.9 634.0 285.9 634.1 284.8 634.2 283.7 634.3 282.6 634.4 281.4 634.5 280.2 634.6 278.9 634.7 277.6 634.8 276.2 634.9 274.8 635.0 273.3 635.1 271.8 635.2 270.2 635.3 268.6 635.4 267.0 635.5 265.3 635.6 263.6 635.7 261.9 635.8 260.2 635.9 258.4 636.1 256.6 636.2 254.8 636.3 253.0 636.4 251.1 636.5 249.3 636.6 247.5 636.7 245.7 636.8 243.9 636.9 242.1 637.0 240.3 637.1 238.6 637.2 236.9 637.3 235.2 637.4 233.6 637.5 232.1 637.6 230.5 637.7 229.1 637.8 227.7 637.9 226.4 638.0 225.2 638.1 224.0 638.3 223.0 638.4 222.0 638.5 221.1 638.6 220.3 638.7 219.6 638.8 219.1 638.9 218.6 639.0 218.2 639.1 217.9 639.2 217.8 639.3 217.7 639.4 217.8 639.5 217.9 639.6 218.2 639.7 218.6 639.8 219.1 640.0 219.7 640.1 220.4 640.2 221.2 640.3 222.1 640.4 223.2 640.5 224.2 640.6 225.4 640.7 226.7 640.8 228.0 640.9 229.4 641.0 230.9 641.1 232.5 641.3 234.1 641.4 235.7 641.5 237.4 641.6 239.1 641.7 240.9 641.8 242.6 641.9 244.4 642.0 246.3 642.1 248.1 642.2 249.9 642.3 251.7 642.5 253.5 642.6 255.3 642.7 257.1 642.8 258.9 642.9 260.7 643.0 262.4 643.1 264.1 643.2 265.7 643.3 267.3 643.4 268.9 643.5 270.4 643.6 271.9 643.8 273.4 643.9 274.8 644.0 276.1 644.1 277.4 644.2 278.7 644.3 279.9 644.4 281.0 644.5 282.1 644.6 283.1 644.7 284.1 644.8 285.1 645.0 286.0 645.1 286.9 645.2 287.7 645.3 288.4 645.4 289.1 645.5 289.8 645.6 290.5 645.7 291.0 645.8 291.6 645.9 292.1 646.0 292.6 646.2 293.1 646.3 293.5 646.4 293.9 646.5 294.2 646.6 294.6 646.7 294.9 646.8 295.2 646.9 295.4 647.0 295.7 647.1 295.9 647.2 296.1 647.3 296.3 647.5 296.5 647.6 296.6 647.7 296.7 647.8 296.9 647.9 297.0 648.0 297.1 648.9 297.0 649.7 296.8 650.6 296.4 651.4 295.9 652.3 295.7 653.1 296.0 653.9 296.8 654.8 297.8 655.6 298.7 656.4 299.4 657.2 299.8 658.1 300.0 658.9 300.1 659.1 300.0 659.2 299.9 659.4 299.7 659.6 299.6 659.8 299.4 659.9 299.1 660.1 298.9 660.3 298.6 660.4 298.3 660.6 297.9 660.8 297.5 660.9 297.0 661.1 296.5 661.3 295.9 661.4 295.2 661.6 294.5 661.8 293.7 662.0 292.9 662.1 291.9 662.3 290.9 662.5 289.8 662.6 288.7 662.8 287.4 663.0 286.1 663.1 284.7 663.3 283.2 663.5 281.7 663.7 280.1 663.8 278.4 664.0 276.7 664.2 275.0 664.3 273.2 664.5 271.4 664.7 269.6 664.9 267.9 665.0 266.1 665.2 264.4 665.4 262.7 665.5 261.1 665.7 259.6 665.9 258.2 666.0 256.8 666.2 255.6 666.4 254.6 666.5 253.7 666.7 252.9 666.9 252.3 667.1 251.9 667.2 251.6 667.4 251.5 667.8 251.7 668.3 252.5 668.7 253.6 669.1 254.9 669.6 256.5 670.0 258.1 670.4 259.6 670.8 261.0 671.3 262.2 671.7 263.1 672.1 263.9 672.6 264.4 673.0 264.8 673.4 265.1 673.9 265.3 674.3 265.4 674.6 265.3 674.9 265.1 675.3 264.8 675.6 264.5 675.9 263.9 676.2 263.2 676.5 262.3 676.8 261.2 677.2 259.9 677.5 258.4 677.8 256.7 678.1 255.1 678.4 253.5 678.7 252.1 679.1 251.0 679.4 250.3 679.7 250.1 679.9 250.2 680.1 250.6 680.3 251.2 680.5 252.0 680.7 253.1 680.9 254.3 681.0 255.7 681.2 257.2 681.4 258.8 681.6 260.5 681.8 262.3 682.0 264.1 682.2 265.9 682.4 267.6 682.6 269.3 682.8 271.0 683.0 272.6 683.2 274.1 683.3 275.5 683.5 276.7 683.7 277.9 683.9 279.0 684.1 279.9 684.3 280.8 684.5 281.5 684.7 282.2 684.9 282.8 685.1 283.3 685.3 283.7 685.5 284.0 685.6 284.3 685.8 284.6 686.0 284.8 686.2 285.0 686.4 285.1 686.6 285.2 687.4 285.2 688.1 285.0 688.9 284.7 689.6 284.6 690.0 284.8 690.4 285.4 690.8 286.3 691.2 287.5 691.6 288.9 692.0 290.5 692.4 292.1 692.8 293.7 693.2 295.2 693.6 296.6 694.0 297.8 694.4 298.8 694.8 299.7 695.2 300.3 695.6 300.9 696.0 301.3 696.4 301.6 696.8 301.8 697.2 302.0 697.6 302.1 698.2 301.9 698.8 301.5 699.4 300.8 700.0 300.0 700.5 299.1 701.1 298.1 701.7 297.2 702.3 296.3 702.9 295.6 703.5 295.1 704.4 294.6 705.2 294.2 706.1 293.9 706.9 293.6 707.8 293.3 708.6 292.8 709.5 292.2 709.7 292.1 709.9 292.0 710.0 291.8 710.2 291.6 710.4 291.4 710.6 291.1 710.8 290.8 711.0 290.5 711.1 290.1 711.3 289.6 711.5 289.0 711.7 288.4 711.9 287.7 712.1 286.9 712.2 286.1 712.4 285.1 712.6 284.1 712.8 282.9 713.0 281.7 713.2 280.3 713.3 278.9 713.5 277.4 713.7 275.8 713.9 274.1 714.1 272.4 714.3 270.7 714.4 268.9 714.6 267.1 714.8 265.3 715.0 263.6 715.2 261.9 715.4 260.3 715.5 258.8 715.7 257.4 715.9 256.2 716.1 255.1 716.3 254.2 716.5 253.5 716.6 252.9 716.8 252.6 717.0 252.5 717.2 252.6 717.4 253.0 717.7 253.7 717.9 254.5 718.1 255.6 718.3 256.9 718.6 258.3 718.8 259.9 719.0 261.5 719.2 263.2 719.5 265.0 719.7 266.7 719.9 268.4 720.1 270.1 720.4 271.7 720.6 273.2 720.8 274.6 721.0 275.9 721.3 277.0 721.5 278.1 721.7 279.0 721.9 279.9 722.2 280.6 722.4 281.2 722.6 281.8 722.8 282.2 723.1 282.6 723.3 282.9 723.5 283.2 723.7 283.4 724.0 283.6 724.2 283.7 724.4 283.8 724.7 283.7 725.0 283.5 725.3 283.3 725.6 282.9 725.9 282.5 726.2 281.9 726.5 281.2 726.8 280.2 727.1 279.1 727.3 277.8 727.6 276.4 727.9 274.8 728.2 273.1 728.5 271.3 728.8 269.7 729.1 268.1 729.4 266.8 729.7 265.8 730.0 265.2 730.3 265.0 730.7 265.3 731.1 266.1 731.5 267.3 731.8 268.8 732.2 270.4 732.6 272.0 733.0 273.4 733.4 274.6 733.8 275.5 734.2 276.2 734.5 276.7 734.9 277.0 735.3 277.2 735.7 277.3 736.1 277.2 736.5 277.0 736.9 276.7 737.3 276.2 737.7 275.5 738.1 274.6 738.5 273.4 738.8 272.0 739.2 270.4 739.6 268.8 740.0 267.3 740.4 266.1 740.8 265.3 741.2 265.0 741.5 265.1 741.7 265.3 742.0 265.7 742.3 266.2 742.5 266.8 742.8 267.5 743.1 268.4 743.3 269.3 743.6 270.3 743.9 271.4 744.1 272.5 744.4 273.7 744.7 275.0 744.9 276.2 745.2 277.5 745.5 278.9 745.7 280.2 746.0 281.5 746.3 282.8 746.5 284.0 746.8 285.3 747.1 286.5 747.3 287.6 747.6 288.7 747.9 289.7 748.1 290.6 748.4 291.4 748.7 292.1 748.9 292.7 749.2 293.2 749.9 294.2 750.5 295.2 751.2 296.1 751.9 296.8 752.5 297.3 753.2 297.5 754.0 297.4 754.9 297.3 755.7 297.0 756.6 296.5 757.4 295.8 758.3 295.3 759.1 295.1 760.0 295.3 760.9 295.7 761.7 296.2 762.6 296.7 763.5 297.1 764.4 297.3 765.2 297.4 766.1 297.5 766.8 297.4 767.5 297.2 768.3 296.9 769.0 296.5 769.7 295.8 770.4 294.9 771.1 293.8 771.8 292.7 772.6 291.7 773.3 291.0 774.0 290.8 774.7 291.0 775.4 291.7 776.1 292.7 776.7 293.9 777.4 295.1 778.1 296.2 778.8 297.2 779.5 298.0 780.2 298.6 780.8 299.0 781.5 299.2 782.2 299.4 782.9 299.5 783.8 299.4 784.7 299.3 785.6 299.1 786.5 298.8 787.3 298.4 788.2 298.0 789.1 297.6 790.0 297.2 790.9 296.7 791.6 296.2 792.3 295.6 793.1 294.7 793.8 293.9 794.5 292.9 795.2 292.0 795.9 291.1 796.6 290.4 797.4 289.7 798.1 289.3 798.8 289.2 799.5 289.4 800.1 290.0 800.8 290.9 801.4 292.1 802.1 293.3 802.8 294.5 803.4 295.7 804.1 296.7 804.7 297.6 805.4 298.2 806.1 298.7 806.7 299.0 807.4 299.3 808.0 299.4 808.7 299.5 809.6 299.4 810.5 299.3 811.4 299.0 812.3 298.7 813.1 298.4 814.0 298.0 814.9 297.7 815.8 297.4 816.7 297.1 817.5 296.9 818.3 296.8 819.2 296.7 820.0 296.5 820.8 296.3 821.6 296.1 822.0 296.0 822.4 295.8 822.8 295.6 823.2 295.3 823.6 294.9 824.0 294.4 824.4 293.8 824.8 293.0 825.2 292.0 825.6 290.9 826.0 289.6 826.4 288.2 826.8 286.6 827.2 285.0 827.6 283.4 828.0 281.9 828.4 280.5 828.8 279.3 829.2 278.4 829.6 277.9 830.0 277.7 830.4 277.9 830.8 278.4 831.2 279.3 831.6 280.5 832.0 281.9 832.4 283.4 832.8 285.0 833.2 286.6 833.6 288.2 834.0 289.6 834.5 290.9 834.9 292.0 835.3 293.0 835.7 293.8 836.1 294.4 836.5 294.9 836.9 295.3 837.3 295.6 837.7 295.8 838.1 296.0 838.5 296.1 839.4 296.0 840.2 295.9 841.1 295.8 842.0 295.5 842.8 295.1 843.7 294.6 844.5 294.0 845.4 293.3 846.3 292.7 847.1 292.3 848.0 292.2 848.8 292.3 849.6 292.8 850.5 293.3 851.3 294.1 852.1 294.8 852.9 295.6 853.8 296.2 854.6 296.8 855.4 297.1 856.4 297.3 857.4 297.5 858.4 297.6 859.3 297.7 860.3 297.8 861.3 297.9 862.3 298.1 863.2 298.3 864.1 298.5 865.0 298.8 865.9 299.0 866.8 299.3 867.7 299.5 868.6 299.8 869.5 299.9 870.4 300.1 871.3 300.1 872.3 300.1 873.3 300.1 874.2 300.1 875.2 300.1 876.2 300.1 877.1 300.2 878.0 300.3 878.8 300.5 879.7 300.8 880.6 301.1 881.5 301.3 882.3 301.4 883.2 301.5 884.1 301.4 885.0 301.4 885.9 301.2 886.8 300.9 887.7 300.6 888.7 300.1 889.6 299.5 890.5 298.8 891.4 298.1 892.3 297.5 893.2 297.1 894.1 297.0 894.9 297.2 895.6 297.9 896.4 298.6 897.2 299.2 898.0 299.5 898.7 299.7 899.5 299.8 900.4 299.9 901.3 300.0 902.2 300.1 903.1 300.1 904.0 300.2 904.9 300.2 905.8 300.2 906.4 300.1 907.0 299.9 907.6 299.7 908.2 299.4 908.7 299.0 909.3 298.4 909.9 297.7 910.5 296.8 911.1 295.7 911.7 294.5 912.3 293.1 912.9 291.7 913.5 290.2 914.0 288.9 914.6 287.7 915.2 286.8 915.8 286.2 916.4 286.0 917.1 286.4 917.8 287.3 918.5 288.2 919.2 288.8 919.9 289.1 920.6 289.2 920.8 289.1 920.9 289.0 921.1 288.9 921.3 288.7 921.4 288.5 921.6 288.4 921.8 288.2 921.9 288.0 922.1 287.7 922.2 287.5 922.4 287.2 922.6 286.9 922.7 286.6 922.9 286.2 923.1 285.8 923.2 285.4 923.4 284.9 923.6 284.4 923.7 283.9 923.9 283.3 924.1 282.7 924.2 282.0 924.4 281.3 924.5 280.5 924.7 279.7 924.9 278.8 925.0 277.9 925.2 277.0 925.4 275.9 925.5 274.9 925.7 273.7 925.9 272.6 926.0 271.3 926.2 270.0 926.4 268.7 926.5 267.3 926.7 265.9 926.8 264.4 927.0 262.8 927.2 261.3 927.3 259.6 927.5 258.0 927.7 256.3 927.8 254.6 928.0 252.8 928.2 251.0 928.3 249.3 928.5 247.5 928.7 245.7 928.8 243.9 929.0 242.1 929.1 240.3 929.3 238.6 929.5 236.8 929.6 235.2 929.8 233.5 930.0 231.9 930.1 230.4 930.3 228.9 930.5 227.5 930.6 226.2 930.8 224.9 931.0 223.7 931.1 222.7 931.3 221.7 931.4 220.8 931.6 220.1 931.8 219.4 931.9 218.9 932.1 218.4 932.3 218.1 932.4 218.0 932.6 217.9 932.8 217.9 932.9 218.1 933.1 218.3 933.2 218.6 933.4 219.0 933.5 219.4 933.7 219.9 933.9 220.5 934.0 221.2 934.2 221.9 934.3 222.7 934.5 223.5 934.6 224.4 934.8 225.3 935.0 226.3 935.1 227.3 935.3 228.4 935.4 229.5 935.6 230.6 935.7 231.8 935.9 233.0 936.1 234.2 936.2 235.5 936.4 236.8 936.5 238.1 936.7 239.4 936.8 240.7 937.0 242.0 937.1 243.4 937.3 244.7 937.5 246.0 937.6 247.4 937.8 248.7 937.9 250.0 938.1 251.3 938.2 252.6 938.4 253.9 938.6 255.1 938.7 256.4 938.9 257.6 939.0 258.7 939.2 259.9 939.3 261.0 939.5 262.0 939.7 263.0 939.8 264.0 940.0 264.9 940.1 265.8 940.3 266.6 940.4 267.4 940.6 268.1 940.9 269.3 941.2 270.5 941.4 271.7 941.7 272.8 942.0 274.0 942.3 275.2 942.5 276.3 942.8 277.4 943.1 278.5 943.4 279.5 943.7 280.6 943.9 281.6 944.2 282.5 944.5 283.4 944.8 284.3 945.1 285.1 945.3 285.9 945.6 286.6 945.9 287.2 946.2 287.8 946.4 288.4 946.7 288.8 947.0 289.2 947.8 290.1 948.5 291.0 949.3 291.7 950.1 292.4 950.8 293.0 951.6 293.6 952.3 294.1 953.1 294.5 953.9 294.9 954.6 295.2 955.4 295.5 956.4 295.8 957.3 296.1 958.3 296.3 959.2 296.5 960.2 296.7 961.1 296.9 962.1 297.1 963.0 297.2 964.0 297.4 964.9 297.5 965.9 297.6 966.9 297.7 967.9 297.8 968.8 297.9 969.8 298.0 970.8 298.1 971.8 298.2 972.7 298.3 973.7 298.4 974.7 298.4 975.7 298.5 976.6 298.6 977.6 298.6 978.6 298.7 979.6 298.8 980.5 298.8 981.5 298.9 982.5 298.9 983.4 299.0 984.4 299.1 985.4 299.1 986.4 299.2 987.3 299.2 988.3 299.3 989.3 299.3 990.2 299.3 991.2 299.3 992.2 299.3 993.2 299.3 994.2 299.3 995.1 299.2 996.1 299.2 997.1 299.2 998.1 299.1 999.1 299.1 1000.1 299.0 1001.1 299.0 1002.1 298.9 1003.0 298.9 1004.0 298.8 1005.0 298.8 1006.0 298.7 1006.9 298.6 1007.8 298.6 1008.7 298.5 1009.6 298.5 1010.5 298.4 1011.4 298.3 1012.3 298.2 1013.2 298.1 1014.1 298.0 1015.0 297.8 1015.4 297.7 1015.9 297.5 1016.3 297.3 1016.8 297.0 1017.2 296.6 1017.7 296.1 1018.1 295.4 1018.6 294.5 1019.0 293.5 1019.5 292.3 1019.9 290.9 1020.3 289.4 1020.8 287.9 1021.2 286.3 1021.7 284.7 1022.1 283.3 1022.6 282.1 1023.0 281.2 1023.5 280.6 1023.9 280.4 1024.4 280.5 1024.8 280.8 1025.3 281.3 1025.8 282.0 1026.2 282.8 1026.7 283.8 1027.2 284.8 1027.7 285.9 1028.1 287.1 1028.6 288.4 1029.1 289.6 1029.5 290.8 1030.0 292.0 1030.5 293.2 1031.0 294.2 1031.4 295.2 1031.9 296.1 1032.4 296.8 1032.8 297.4 1033.3 297.8 1034.1 298.3 1034.9 298.8 1035.7 299.1 1036.5 299.4 1037.3 299.5 1038.3 299.5 1039.3 299.4 1040.3 299.3 1041.2 299.1 1042.2 298.9 1043.2 298.7 1044.2 298.5 1045.0 298.2 1045.7 297.8 1046.5 297.2 1047.3 296.6 1048.1 295.9 1048.8 295.2 1049.6 294.6 1050.4 294.0 1051.2 293.5 1051.9 293.2 1052.7 293.1 1053.5 293.4 1054.2 294.2 1055.0 295.2 1055.8 296.3 1056.5 297.2 1057.3 297.8 1058.1 298.2 1058.8 298.4 1059.6 298.5 1060.4 298.6 1061.3 298.7 1062.1 298.8 1062.9 298.8 1063.8 298.9 1064.6 299.0 1065.5 299.1 1066.4 299.3 1067.3 299.5 1068.2 299.7 1069.1 299.9 1070.0 300.0 1070.9 300.1 1071.7 300.1 1072.6 300.2 1073.4 300.2 1074.3 300.2 1075.0 300.1 1075.7 299.7 1076.4 299.2 1077.1 298.5 1077.8 297.7 1078.5 296.9 1079.2 296.0 1079.9 295.2 1080.6 294.5 1081.3 293.9 1081.9 293.2 1082.6 292.5 1083.2 291.8 1083.9 291.1 1084.6 290.5 1085.2 289.8 1085.9 289.2 1086.6 288.5 1087.4 287.7 1088.1 287.0 1088.9 286.2 1089.6 285.4 1090.3 284.7 1091.1 284.2 1091.8 283.7 1092.6 283.4 1093.3 283.3 1094.0 283.6 1094.7 284.5 1095.4 285.6 1096.1 286.8 1096.8 287.8 1097.5 288.5 1098.2 288.9 1098.9 289.1 1099.6 289.2 1100.3 289.1 1101.1 289.0 1101.8 288.8 1102.5 288.4 1103.3 287.9 1104.0 287.3 1104.7 286.4 1105.4 285.4 1106.2 284.4 1106.9 283.4 1107.6 282.6 1108.4 282.0 1109.1 281.8 1109.9 282.0 1110.8 282.4 1111.6 282.7 1112.5 282.8 1113.3 282.9 1114.2 282.8 1115.0 282.7 1115.9 282.5 1116.8 282.2 1117.6 281.7 1118.5 281.1 1119.3 280.3 1120.2 279.6 1121.1 278.9 1121.9 278.4 1122.8 278.2 1123.6 278.3 1124.5 278.7 1125.3 278.9 1126.2 279.1 1127.0 279.1 1127.5 279.0 1127.9 278.8 1128.4 278.5 1128.8 278.1 1129.3 277.5 1129.7 276.6 1130.2 275.6 1130.6 274.3 1131.1 272.8 1131.5 271.2 1132.0 269.6 1132.4 268.2 1132.9 267.0 1133.3 266.3 1133.8 266.0 1134.4 266.2 1134.9 266.8 1135.5 267.7 1136.1 268.8 1136.6 270.2 1137.2 271.6 1137.8 273.0 1138.3 274.3 1138.9 275.6 1139.5 276.6 1140.0 277.5 1140.6 278.2 1141.2 278.8 1141.7 279.2 1142.3 279.5 1142.9 279.8 1143.4 279.9 1144.0 280.0 1144.2 279.9 1144.5 279.8 1144.7 279.6 1144.9 279.4 1145.2 279.2 1145.4 278.9 1145.7 278.6 1145.9 278.2 1146.1 277.7 1146.4 277.2 1146.6 276.6 1146.8 275.9 1147.1 275.2 1147.3 274.3 1147.6 273.3 1147.8 272.3 1148.0 271.1 1148.3 269.9 1148.5 268.5 1148.7 267.0 1149.0 265.5 1149.2 263.9 1149.4 262.2 1149.7 260.5 1149.9 258.7 1150.2 257.0 1150.4 255.2 1150.6 253.5 1150.9 251.9 1151.1 250.3 1151.3 248.9 1151.6 247.6 1151.8 246.5 1152.1 245.5 1152.3 244.7 1152.5 244.2 1152.8 243.8 1153.0 243.7 1153.2 243.8 1153.4 244.1 1153.6 244.7 1153.8 245.4 1153.9 246.3 1154.1 247.4 1154.3 248.7 1154.5 250.1 1154.7 251.6 1154.9 253.2 1155.1 254.9 1155.2 256.6 1155.4 258.4 1155.6 260.1 1155.8 261.9 1156.0 263.6 1156.2 265.2 1156.4 266.9 1156.6 268.4 1156.8 269.9 1156.9 271.2 1157.1 272.5 1157.3 273.7 1157.5 274.8 1157.7 275.8 1157.9 276.6 1158.1 277.4 1158.2 278.2 1158.4 278.8 1158.6 279.3 1158.8 279.8 1159.0 280.3 1159.2 280.6 1159.4 280.9 1159.6 281.2 1159.8 281.4 1159.9 281.6 1160.1 281.8 1160.3 281.9 1160.5 282.0 1161.1 282.7 1161.7 283.3 1162.3 283.7 1162.9 283.9 1163.5 283.8 1164.2 283.6 1164.8 283.3 1165.4 282.9 1166.1 282.2 1166.7 281.3 1167.3 280.2 1167.9 279.0 1168.6 277.6 1169.2 276.3 1169.8 275.2 1170.5 274.5 1171.1 274.2 1171.7 274.4 1172.3 274.9 1172.9 275.5 1173.4 276.4 1174.0 277.3 1174.6 278.2 1175.2 279.0 1175.8 279.8 1176.4 280.6 1176.9 281.5 1177.5 282.4 1178.1 283.3 1178.7 284.2 1179.3 285.0 1179.8 285.8 1180.4 286.5 1181.0 287.0 1181.8 287.6 1182.5 288.2 1183.2 288.6 1184.0 288.8 1184.5 288.7 1185.1 288.5 1185.7 288.0 1186.2 287.4 1186.8 286.4 1187.3 285.1 1187.8 283.8 1188.4 282.5 1189.0 281.5 1189.5 281.2 1190.0 281.5 1190.5 282.3 1191.1 283.6 1191.6 285.0 1192.1 286.5 1192.7 287.8 1193.2 288.8 1193.7 289.6 1194.2 290.1 1194.8 290.5 1195.3 290.7 1195.8 290.8 1195.9 290.7 1196.0 290.6 1196.1 290.4 1196.2 290.3 1196.3 290.1 1196.4 290.0 1196.5 289.8 1196.6 289.6 1196.7 289.3 1196.7 289.1 1196.8 288.8 1196.9 288.5 1197.0 288.1 1197.1 287.8 1197.2 287.4 1197.3 286.9 1197.4 286.5 1197.5 286.0 1197.6 285.4 1197.7 284.9 1197.8 284.2 1197.9 283.6 1198.0 282.9 1198.1 282.1 1198.2 281.3 1198.3 280.4 1198.4 279.5 1198.4 278.6 1198.5 277.6 1198.6 276.5 1198.7 275.4 1198.8 274.2 1198.9 273.0 1199.0 271.7 1199.1 270.3 1199.2 268.9 1199.3 267.5 1199.4 266.0 1199.5 264.5 1199.6 262.9 1199.7 261.3 1199.8 259.6 1199.9 257.9 1200.0 256.1 1200.1 254.4 1200.2 252.6 1200.2 250.8 1200.3 249.0 1200.4 247.2 1200.5 245.3 1200.6 243.5 1200.7 241.7 1200.8 239.9 1200.9 238.1 1201.0 236.4 1201.1 234.7 1201.2 233.0 1201.3 231.4 1201.4 229.8 1201.5 228.4 1201.6 226.9 1201.7 225.6 1201.8 224.3 1201.9 223.2 1201.9 222.1 1202.0 221.1 1202.1 220.2 1202.2 219.5 1202.3 218.8 1202.4 218.3 1202.5 217.8 1202.6 217.5 1202.7 217.4 1202.8 217.3 1202.9 217.3 1203.0 217.5 1203.1 217.7 1203.2 218.0 1203.2 218.4 1203.3 218.9 1203.4 219.4 1203.5 220.1 1203.6 220.8 1203.7 221.5 1203.8 222.3 1203.9 223.2 1203.9 224.1 1204.0 225.1 1204.1 226.1 1204.2 227.2 1204.3 228.3 1204.4 229.5 1204.5 230.7 1204.6 231.9 1204.7 233.2 1204.7 234.4 1204.8 235.7 1204.9 237.0 1205.0 238.4 1205.1 239.7 1205.2 241.1 1205.3 242.4 1205.4 243.8 1205.4 245.1 1205.5 246.5 1205.6 247.8 1205.7 249.2 1205.8 250.5 1205.9 251.8 1206.0 253.0 1206.1 254.3 1206.2 255.5 1206.2 256.7 1206.3 257.9 1206.4 259.0 1206.5 260.1 1206.6 261.1 1206.7 262.1 1206.8 263.0 1206.9 263.9 1206.9 264.7 1207.0 265.4 1207.1 266.1 1207.2 266.8 1207.3 267.3 1207.5 268.5 1207.7 269.6 1208.0 270.7 1208.2 271.6 1208.4 272.5 1208.6 273.4 1208.8 274.2 1209.0 275.0 1209.3 275.7 1209.5 276.5 1209.7 277.3 1210.0 278.4 1210.3 279.5 1210.6 280.7 1210.9 282.0 1211.2 283.2 1211.5 284.4 1211.8 285.6 1212.1 286.8 1212.3 287.9 1212.6 288.9 1212.9 289.8 1213.2 290.7 1213.5 291.4 1213.8 292.0 1214.1 292.4 1214.4 292.7 1214.7 292.8 1215.5 292.8 1216.3 292.6 1217.2 292.4 1218.0 292.1 1218.8 291.7 1219.6 291.6 1220.3 291.7 1221.1 292.0 1221.8 292.2 1222.6 292.2 1223.3 292.2 1224.1 292.0 1224.8 291.7 1225.6 291.6 1226.5 292.0 1227.4 292.7 1228.3 293.1 1229.2 293.2 1229.9 293.0 1230.5 292.6 1231.2 292.0 1231.8 291.3 1232.5 290.4 1233.2 289.6 1233.8 288.8 1234.5 288.2 1235.2 287.5 1236.0 286.8 1236.8 286.0 1237.5 285.3 1238.2 284.6 1239.0 284.1 1239.8 283.7 1240.5 283.6 1241.2 284.0 1242.0 285.0 1242.8 286.1 1243.5 286.7 1244.2 287.1 1245.0 287.2 1245.6 287.1 1246.2 286.9 1246.7 286.5 1247.3 285.9 1247.9 285.0 1248.5 283.9 1249.1 282.6 1249.7 281.1 1250.2 279.9 1250.8 279.0 1251.4 278.7 1252.2 278.7 1253.1 278.9 1253.9 279.0 1254.8 279.3 1255.6 279.6 1256.5 279.9 1257.3 280.2 1258.0 280.6 1258.6 281.1 1259.3 281.8 1260.0 282.6 1260.6 283.5 1261.3 284.3 1262.0 285.0 1262.6 285.7 1263.3 286.2 1264.2 286.7 1265.0 287.1 1265.9 287.4 1266.7 287.7 1267.6 288.1 1268.4 288.4 1269.3 288.8 1270.1 289.3 1270.9 289.9 1271.8 290.5 1272.6 291.1 1273.4 291.4 1274.2 291.6 1275.0 291.5 1275.8 291.2 1276.6 290.6 1277.4 289.9 1278.2 289.6 1279.0 289.7 1279.9 290.1 1280.7 290.5 1281.6 290.8 1282.4 291.1 1283.3 291.2 1284.1 291.2 1284.4 291.1 1284.7 290.9 1285.1 290.7 1285.4 290.4 1285.7 289.9 1286.0 289.3 1286.3 288.5 1286.7 287.6 1287.0 286.4 1287.3 285.1 1287.6 283.6 1288.0 282.1 1288.3 280.4 1288.6 278.8 1288.9 277.3 1289.2 276.0 1289.6 275.0 1289.9 274.4 1290.2 274.2 1290.7 274.5 1291.2 275.2 1291.7 276.3 1292.2 277.7 1292.7 279.1 1293.2 280.6 1293.7 281.8 1294.2 282.9 1294.7 283.8 1295.2 284.4 1295.7 284.8 1296.2 285.1 1296.7 285.3 1297.2 285.4 1297.4 285.3 1297.7 285.1 1297.9 284.9 1298.1 284.5 1298.3 284.1 1298.5 283.5 1298.8 282.8 1299.0 281.8 1299.2 280.7 1299.5 279.4 1299.7 277.9 1299.9 276.3 1300.1 274.6 1300.4 272.9 1300.6 271.2 1300.8 269.6 1301.0 268.3 1301.2 267.3 1301.5 266.7 1301.7 266.5 1301.9 266.8 1302.2 267.7 1302.4 269.0 1302.6 270.6 1302.9 272.3 1303.1 274.0 1303.3 275.5 1303.6 276.8 1303.8 277.8 1304.1 278.5 1304.3 279.0 1304.5 279.4 1304.8 279.6 1305.0 279.7 1305.7 279.6 1306.4 279.0 1307.1 278.1 1307.8 277.6 1308.5 277.7 1309.3 277.9 1310.0 278.0 1310.8 278.0 1311.4 277.9 1311.9 277.4 1312.5 276.5 1313.1 276.0 1313.5 276.5 1314.0 277.8 1314.4 279.1 1314.9 280.0 1315.3 280.4 1315.8 280.6 1316.5 280.5 1317.2 280.1 1317.9 279.3 1318.6 278.3 1319.3 277.8 1319.8 278.2 1320.3 279.2 1320.8 280.6 1321.3 282.1 1321.8 283.4 1322.3 284.5 1322.8 285.2 1323.3 285.6 1323.8 285.9 1324.3 286.0 1324.3 286.0 1324.4 285.9 1324.4 285.7 1324.5 285.5 1324.5 285.2 1324.6 284.9 1324.6 284.5 1324.7 284.1 1324.7 283.6 1324.7 283.0 1324.8 282.4 1324.8 281.8 1324.9 281.1 1324.9 280.4 1325.0 279.6 1325.0 278.8 1325.1 277.9 1325.1 277.0 1325.2 276.1 1325.2 275.1 1325.2 274.2 1325.3 273.1 1325.3 272.1 1325.4 271.0 1325.4 269.9 1325.5 268.7 1325.5 267.6 1325.6 266.4 1325.6 265.2 1325.6 264.0 1325.7 262.8 1325.7 261.5 1325.8 260.2 1325.8 259.0 1325.9 257.7 1325.9 256.4 1326.0 255.1 1326.0 253.8 1326.0 252.5 1326.1 251.2 1326.1 249.9 1326.2 248.5 1326.2 247.2 1326.3 245.9 1326.3 244.6 1326.4 243.3 1326.4 242.1 1326.5 240.8 1326.5 239.5 1326.5 238.3 1326.6 237.0 1326.6 235.8 1326.7 234.6 1326.7 233.5 1326.8 232.3 1326.8 231.2 1326.9 230.1 1326.9 229.0 1326.9 228.1 1327.0 227.1 1327.0 226.1 1327.1 225.0 1327.1 224.0 1327.1 222.9 1327.2 221.7 1327.2 220.6 1327.2 219.4 1327.3 218.2 1327.3 216.9 1327.4 215.7 1327.4 214.4 1327.4 213.2 1327.5 211.9 1327.5 210.6 1327.6 209.3 1327.6 208.0 1327.6 206.7 1327.7 205.4 1327.7 204.1 1327.7 202.8 1327.8 201.5 1327.8 200.2 1327.9 199.0 1327.9 197.7 1327.9 196.5 1328.0 195.3 1328.0 194.1 1328.1 192.9 1328.1 191.8 1328.1 190.7 1328.2 189.6 1328.2 188.5 1328.2 187.5 1328.3 186.5 1328.3 185.6 1328.4 184.7 1328.4 183.8 1328.4 183.0 1328.5 182.3 1328.5 181.5 1328.6 180.9 1328.6 180.3 1328.6 179.7 1328.7 179.2 1328.7 178.8 1328.7 178.5 1328.8 178.2 1328.8 177.9 1328.9 177.8 1328.9 177.7 1329.4 177.2 1330.0 176.8 1330.5 176.7 1330.6 177.4 1330.7 178.8 1330.7 179.9 1330.8 180.5 1330.9 180.7 1331.0 180.6 1331.1 180.3 1331.2 180.0 1331.4 179.4 1331.5 178.7 1331.6 177.6 1331.7 176.3 1331.8 174.7 1331.9 172.9 1332.0 171.1 1332.2 169.4 1332.3 168.0 1332.4 167.1 1332.5 166.8 1332.5 166.8 1332.6 166.9 1332.6 167.1 1332.7 167.3 1332.7 167.6 1332.7 168.0 1332.8 168.4 1332.8 168.8 1332.8 169.3 1332.9 169.9 1332.9 170.5 1333.0 171.2 1333.0 171.9 1333.0 172.6 1333.1 173.4 1333.1 174.3 1333.1 175.1 1333.2 176.1 1333.2 177.0 1333.3 178.0 1333.3 179.0 1333.3 180.1 1333.4 181.2 1333.4 182.3 1333.5 183.4 1333.5 184.6 1333.5 185.8 1333.6 187.0 1333.6 188.2 1333.6 189.4 1333.7 190.7 1333.7 192.0 1333.8 193.3 1333.8 194.6 1333.8 195.9 1333.9 197.2 1333.9 198.5 1333.9 199.8 1334.0 201.1 1334.0 202.5 1334.1 203.8 1334.1 205.1 1334.1 206.5 1334.2 207.8 1334.2 209.1 1334.3 210.4 1334.3 211.7 1334.3 212.9 1334.4 214.2 1334.4 215.4 1334.4 216.6 1334.5 217.9 1334.5 219.0 1334.6 220.2 1334.6 221.3 1334.6 222.4 1334.7 223.5 1334.7 224.6 1334.7 225.6 1334.8 226.6 1334.8 227.5 1334.9 228.4 1334.9 229.3 1335.0 230.4 1335.0 231.6 1335.1 232.8 1335.1 234.0 1335.2 235.2 1335.2 236.4 1335.2 237.6 1335.3 238.9 1335.4 240.1 1335.4 241.4 1335.5 242.6 1335.5 243.9 1335.5 245.1 1335.6 246.4 1335.7 247.6 1335.7 248.8 1335.8 250.0 1335.8 251.2 1335.8 252.3 1335.9 253.5 1336.0 254.6 1336.0 255.7 1336.0 256.7 1336.1 257.7 1336.2 258.7 1336.2 259.7 1336.2 260.6 1336.3 261.4 1336.3 262.2 1336.4 263.0 1336.5 263.7 1336.5 264.4 1336.5 265.0 1336.6 265.5 1336.6 266.0 1336.7 266.4 1336.8 266.7 1336.8 267.0 1337.1 268.5 1337.5 269.9 1337.8 271.1 1338.1 272.1 1338.5 273.0 1338.8 273.7 1339.1 274.2 1339.5 274.5 1339.8 274.6 1339.8 274.5 1339.9 274.4 1339.9 274.3 1339.9 274.2 1339.9 274.1 1340.0 273.9 1340.0 273.8 1340.0 273.7 1340.0 273.5 1340.1 273.4 1340.1 273.3 1340.1 273.1 1340.1 273.0 1340.2 272.8 1340.2 272.7 1340.2 272.5 1340.3 272.3 1340.3 272.2 1340.3 272.0 1340.3 271.8 1340.4 271.6 1340.4 271.4 1340.4 271.2 1340.4 271.0 1340.5 270.8 1340.5 270.6 1340.5 270.4 1340.5 270.1 1340.6 269.9 1340.6 269.6 1340.6 269.4 1340.7 269.1 1340.7 268.9 1340.7 268.6 1340.7 268.3 1340.8 268.0 1340.8 267.7 1340.8 267.4 1340.8 267.1 1340.9 266.8 1340.9 266.5 1340.9 266.1 1340.9 265.8 1341.0 265.4 1341.0 265.1 1341.0 264.7 1341.1 264.3 1341.1 263.9 1341.1 263.5 1341.1 263.1 1341.2 262.7 1341.2 262.3 1341.2 261.8 1341.2 261.4 1341.3 260.9 1341.3 260.5 1341.3 260.0 1341.3 259.5 1341.4 259.0 1341.4 258.5 1341.4 257.9 1341.5 257.4 1341.5 256.9 1341.5 256.3 1341.5 255.7 1341.6 255.1 1341.6 254.5 1341.6 253.9 1341.6 253.3 1341.7 252.7 1341.7 252.0 1341.7 251.3 1341.8 250.7 1341.8 250.0 1341.8 249.3 1341.8 248.5 1341.9 247.8 1341.9 247.1 1341.9 246.3 1341.9 245.5 1342.0 244.7 1342.0 243.9 1342.0 243.1 1342.0 242.3 1342.1 241.4 1342.1 240.5 1342.1 239.7 1342.2 238.8 1342.2 237.8 1342.2 236.9 1342.2 236.0 1342.3 235.0 1342.3 234.0 1342.3 233.0 1342.3 232.0 1342.4 231.0 1342.4 230.0 1342.4 228.9 1342.4 227.8 1342.5 226.8 1342.5 225.6 1342.5 224.5 1342.6 223.4 1342.6 222.2 1342.6 221.1 1342.6 219.9 1342.7 218.7 1342.7 217.4 1342.7 216.2 1342.7 215.0 1342.8 213.7 1342.8 212.4 1342.8 211.1 1342.8 209.8 1342.9 208.4 1342.9 207.1 1342.9 205.7 1343.0 204.4 1343.0 203.0 1343.0 201.5 1343.0 200.1 1343.1 198.7 1343.1 197.2 1343.1 195.7 1343.1 194.2 1343.2 192.7 1343.2 191.2 1343.2 189.7 1343.2 188.1 1343.3 186.6 1343.3 185.0 1343.3 183.4 1343.4 181.8 1343.4 180.2 1343.4 178.6 1343.4 177.0 1343.5 175.3 1343.5 173.6 1343.5 172.0 1343.5 170.3 1343.6 168.6 1343.6 166.9 1343.6 165.2 1343.6 163.4 1343.7 161.7 1343.7 160.0 1343.7 158.2 1343.8 156.4 1343.8 154.7 1343.8 152.9 1343.8 151.1 1343.9 149.3 1343.9 147.5 1343.9 145.7 1343.9 143.9 1344.0 142.1 1344.0 140.3 1344.0 138.5 1344.0 136.6 1344.1 134.8 1344.1 133.0 1344.1 131.1 1344.2 129.3 1344.2 127.5 1344.2 125.6 1344.2 123.8 1344.3 122.0 1344.3 120.1 1344.3 118.3 1344.3 116.5 1344.4 114.6 1344.4 112.8 1344.4 111.0 1344.4 109.2 1344.5 107.4 1344.5 105.6 1344.5 103.8 1344.6 102.0 1344.6 100.2 1344.6 98.4 1344.6 96.7 1344.7 94.9 1344.7 93.2 1344.7 91.4 1344.7 89.7 1344.8 88.0 1344.8 86.3 1344.8 84.6 1344.9 83.0 1344.9 81.3 1344.9 79.7 1344.9 78.0 1345.0 76.4 1345.0 74.8 1345.0 73.3 1345.0 71.7 1345.1 70.2 1345.1 68.6 1345.1 67.1 1345.1 65.7 1345.2 64.2 1345.2 62.8 1345.2 61.4 1345.3 60.0 1345.3 58.6 1345.3 57.3 1345.3 55.9 1345.4 54.6 1345.4 53.4 1345.4 52.1 1345.4 50.9 1345.5 49.7 1345.5 48.6 1345.5 47.4 1345.5 46.3 1345.6 45.3 1345.6 44.2 1345.6 43.2 1345.7 42.2 1345.7 41.2 1345.7 40.3 1345.7 39.4 1345.8 38.6 1345.8 37.7 1345.8 36.9 1345.8 36.2 1345.9 35.4 1345.9 34.7 1345.9 34.1 1345.9 33.5 1346.0 32.9 1346.0 32.3 1346.0 31.8 1346.1 31.3 1346.1 30.8 1346.1 30.4 1346.1 30.0 1346.2 29.7 1346.2 29.4 1346.2 29.1 1346.2 28.9 1346.3 28.7 1346.3 28.5 1346.3 28.4 1346.3 28.3 1346.4 28.2 1346.4 28.2 1346.4 28.2 1346.5 28.3 1346.5 28.4 1346.6 28.5 1346.6 28.6 1346.6 28.8 1346.7 29.1 1346.7 29.3 1346.8 29.6 1346.8 30.0 1346.8 30.4 1346.9 30.8 1346.9 31.2 1346.9 31.7 1347.0 32.2 1347.0 32.7 1347.1 33.3 1347.1 33.9 1347.1 34.6 1347.2 35.3 1347.2 36.0 1347.3 36.7 1347.3 37.5 1347.3 38.3 1347.4 39.1 1347.4 40.0 1347.5 40.9 1347.5 41.9 1347.5 42.8 1347.6 43.8 1347.6 44.8 1347.6 45.9 1347.7 47.0 1347.7 48.1 1347.8 49.2 1347.8 50.4 1347.8 51.6 1347.9 52.8 1347.9 54.0 1348.0 55.3 1348.0 56.6 1348.0 57.9 1348.1 59.3 1348.1 60.6 1348.2 62.0 1348.2 63.4 1348.2 64.8 1348.3 66.3 1348.3 67.8 1348.3 69.3 1348.4 70.8 1348.4 72.3 1348.5 73.9 1348.5 75.4 1348.5 77.0 1348.6 78.6 1348.6 80.2 1348.7 81.9 1348.7 83.5 1348.7 85.2 1348.8 86.9 1348.8 88.6 1348.9 90.3 1348.9 92.0 1348.9 93.7 1349.0 95.4 1349.0 97.2 1349.1 99.0 1349.1 100.7 1349.1 102.5 1349.2 104.3 1349.2 106.1 1349.2 107.9 1349.3 109.7 1349.3 111.5 1349.4 113.3 1349.4 115.1 1349.4 117.0 1349.5 118.8 1349.5 120.6 1349.6 122.4 1349.6 124.3 1349.6 126.1 1349.7 128.0 1349.7 129.8 1349.8 131.6 1349.8 133.5 1349.8 135.3 1349.9 137.1 1349.9 139.0 1349.9 140.8 1350.0 142.6 1350.0 144.5 1350.1 146.3 1350.1 148.1 1350.1 149.9 1350.2 151.7 1350.2 153.5 1350.3 155.3 1350.3 157.1 1350.3 158.9 1350.4 160.6 1350.4 162.4 1350.5 164.2 1350.5 165.9 1350.5 167.6 1350.6 169.4 1350.6 171.1 1350.6 172.8 1350.7 174.5 1350.7 176.2 1350.8 177.9 1350.8 179.5 1350.8 181.2 1350.9 182.8 1350.9 184.5 1351.0 186.1 1351.0 187.7 1351.0 189.3 1351.1 190.8 1351.1 192.4 1351.2 194.0 1351.2 195.5 1351.2 197.0 1351.3 198.5 1351.3 200.0 1351.3 201.5 1351.4 203.0 1351.4 204.5 1351.5 205.9 1351.5 207.3 1351.5 208.7 1351.6 210.1 1351.6 211.5 1351.7 212.9 1351.7 214.2 1351.7 215.5 1351.8 216.9 1351.8 218.2 1351.9 219.4 1351.9 220.7 1351.9 222.0 1352.0 223.2 1352.0 224.4 1352.1 225.6 1352.1 226.8 1352.1 228.0 1352.2 229.2 1352.2 230.3 1352.2 231.4 1352.3 232.5 1352.3 233.6 1352.4 234.7 1352.4 235.8 1352.4 236.8 1352.5 237.8 1352.5 238.9 1352.6 239.9 1352.6 240.8 1352.6 241.8 1352.7 242.8 1352.7 243.7 1352.8 244.6 1352.8 245.5 1352.8 246.4 1352.9 247.3 1352.9 248.2 1352.9 249.0 1353.0 249.8 1353.0 250.7 1353.1 251.5 1353.1 252.3 1353.1 253.0 1353.2 253.8 1353.2 254.5 1353.3 255.3 1353.3 256.0 1353.3 256.7 1353.4 257.4 1353.4 258.1 1353.5 258.7 1353.5 259.4 1353.5 260.0 1353.6 260.7 1353.6 261.3 1353.6 261.9 1353.7 262.5 1353.7 263.0 1353.8 263.6 1353.8 264.2 1353.8 264.7 1353.9 265.2 1353.9 265.8 1354.0 266.3 1354.0 266.8 1354.0 267.2 1354.1 267.7 1354.1 268.2 1354.2 268.6 1354.2 269.1 1354.2 269.5 1354.3 269.9 1354.3 270.4 1354.4 270.8 1354.4 271.2 1354.4 271.6 1354.5 271.9 1354.5 272.3 1354.5 272.7 1354.6 273.0 1354.6 273.4 1354.7 273.7 1354.7 274.0 1354.7 274.3 1354.8 274.6 1354.8 274.9 1354.9 275.2 1354.9 275.5 1354.9 275.8 1355.0 276.1 1355.0 276.3 1355.1 276.6 1355.1 276.9 1355.1 277.1 1355.2 277.3 1355.2 277.6 1355.2 277.8 1355.3 278.0 1355.3 278.2 1355.4 278.4 1355.4 278.6 1355.4 278.8 1355.5 279.0 1355.5 279.2 1355.6 279.4 1355.6 279.6 1355.6 279.7 1355.7 279.9 1355.7 280.1 1355.8 280.2 1355.8 280.4 1355.8 280.5 1355.9 280.7 1355.9 280.8 1355.9 281.0 1356.0 281.1 1356.0 281.2 1356.1 281.3 1356.1 281.5 1356.1 281.6 1356.2 281.7 1356.2 281.8 1356.3 281.9 1356.3 282.0 1356.4 281.9 1356.4 281.8 1356.5 281.6 1356.6 281.5 1356.7 281.3 1356.7 281.2 1356.8 281.0 1356.9 280.8 1357.0 280.5 1357.0 280.3 1357.1 280.0 1357.2 279.7 1357.3 279.4 1357.3 279.0 1357.4 278.6 1357.5 278.2 1357.6 277.8 1357.6 277.3 1357.7 276.7 1357.8 276.2 1357.9 275.6 1357.9 274.9 1358.0 274.2 1358.1 273.5 1358.2 272.7 1358.2 271.9 1358.3 271.0 1358.4 270.0 1358.5 269.1 1358.5 268.0 1358.6 266.9 1358.7 265.8 1358.8 264.6 1358.8 263.3 1358.9 262.0 1359.0 260.7 1359.1 259.3 1359.1 257.8 1359.2 256.3 1359.3 254.7 1359.4 253.2 1359.4 251.5 1359.5 249.8 1359.6 248.1 1359.7 246.4 1359.7 244.6 1359.8 242.9 1359.9 241.1 1360.0 239.3 1360.0 237.4 1360.1 235.6 1360.2 233.8 1360.3 232.0 1360.3 230.2 1360.4 228.5 1360.5 226.8 1360.6 225.1 1360.6 223.4 1360.7 221.9 1360.8 220.3 1360.9 218.9 1360.9 217.5 1361.0 216.1 1361.1 214.9 1361.2 213.8 1361.2 212.7 1361.3 211.7 1361.4 210.9 1361.5 210.1 1361.5 209.5 1361.6 209.0 1361.7 208.5 1361.8 208.2 1361.8 208.1 1361.9 208.0 1362.0 208.1 1362.0 208.3 1362.1 208.7 1362.1 209.2 1362.2 209.9 1362.2 210.7 1362.3 211.6 1362.3 212.7 1362.4 213.9 1362.4 215.1 1362.5 216.5 1362.6 218.0 1362.6 219.6 1362.7 221.2 1362.7 222.9 1362.8 224.6 1362.8 226.4 1362.9 228.2 1362.9 230.0 1363.0 231.8 1363.0 233.6 1363.1 235.4 1363.1 237.2 1363.2 239.0 1363.3 240.7 1363.3 242.4 1363.4 244.0 1363.4 245.6 1363.5 247.1 1363.5 248.5 1363.6 249.9 1363.6 251.3 1363.7 252.5 1363.7 253.7 1363.8 254.9 1363.9 255.9 1363.9 256.9 1364.0 257.8 1364.0 258.7 1364.1 259.5 1364.1 260.2 1364.2 260.9 1364.2 261.6 1364.3 262.1 1364.3 262.7 1364.4 263.1 1364.4 263.6 1364.5 264.0 1364.6 264.3 1364.6 264.6 1364.7 264.9 1364.7 265.2 1364.8 265.4 1364.8 265.6 1364.9 265.8 1364.9 265.9 1365.0 266.1 1365.0 266.2 1365.1 266.3 1365.1 266.2 1365.2 266.1 1365.2 266.0 1365.2 265.8 1365.3 265.7 1365.3 265.5 1365.4 265.3 1365.4 265.1 1365.4 264.9 1365.5 264.7 1365.5 264.5 1365.5 264.2 1365.6 263.9 1365.6 263.6 1365.6 263.3 1365.7 262.9 1365.7 262.6 1365.8 262.2 1365.8 261.7 1365.8 261.3 1365.9 260.8 1365.9 260.3 1365.9 259.7 1366.0 259.1 1366.0 258.5 1366.0 257.8 1366.1 257.1 1366.1 256.4 1366.2 255.6 1366.2 254.8 1366.2 253.9 1366.3 253.0 1366.3 252.1 1366.3 251.1 1366.4 250.1 1366.4 249.0 1366.4 247.8 1366.5 246.7 1366.5 245.5 1366.6 244.2 1366.6 242.9 1366.6 241.5 1366.7 240.1 1366.7 238.7 1366.7 237.2 1366.8 235.7 1366.8 234.1 1366.8 232.5 1366.9 230.9 1366.9 229.2 1367.0 227.5 1367.0 225.8 1367.0 224.1 1367.1 222.3 1367.1 220.5 1367.1 218.7 1367.2 216.9 1367.2 215.1 1367.2 213.2 1367.3 211.4 1367.3 209.6 1367.4 207.8 1367.4 206.0 1367.4 204.3 1367.5 202.5 1367.5 200.8 1367.5 199.1 1367.6 197.5 1367.6 195.9 1367.6 194.3 1367.7 192.8 1367.7 191.4 1367.8 190.0 1367.8 188.7 1367.8 187.4 1367.9 186.3 1367.9 185.2 1367.9 184.2 1368.0 183.2 1368.0 182.4 1368.0 181.7 1368.1 181.0 1368.1 180.5 1368.2 180.0 1368.2 179.7 1368.2 179.4 1368.3 179.3 1368.3 179.2 1368.3 179.3 1368.4 179.4 1368.4 179.7 1368.5 180.1 1368.5 180.5 1368.5 181.1 1368.6 181.8 1368.6 182.6 1368.7 183.4 1368.7 184.4 1368.7 185.5 1368.8 186.6 1368.8 187.8 1368.8 189.1 1368.9 190.5 1368.9 191.9 1369.0 193.4 1369.0 194.9 1369.0 196.5 1369.1 198.2 1369.1 199.9 1369.2 201.6 1369.2 203.3 1369.2 205.1 1369.3 206.9 1369.3 208.7 1369.4 210.5 1369.4 212.3 1369.4 214.2 1369.5 216.0 1369.5 217.8 1369.6 219.6 1369.6 221.4 1369.6 223.1 1369.7 224.9 1369.7 226.6 1369.8 228.3 1369.8 229.9 1369.8 231.5 1369.9 233.1 1369.9 234.6 1369.9 236.1 1370.0 237.5 1370.0 238.9 1370.1 240.3 1370.1 241.6 1370.1 242.8 1370.2 244.1 1370.2 245.2 1370.3 246.3 1370.3 247.4 1370.3 248.4 1370.4 249.4 1370.4 250.3 1370.5 251.2 1370.5 252.0 1370.5 252.8 1370.6 253.6 1370.6 254.3 1370.7 255.0 1370.7 255.6 1370.7 256.2 1370.8 256.7 1370.8 257.3 1370.9 257.7 1370.9 258.2 1370.9 258.6 1371.0 259.0 1371.0 259.4 1371.0 259.7 1371.1 260.1 1371.1 260.3 1371.2 260.6 1371.2 260.9 1371.2 261.1 1371.3 261.3 1371.3 261.5 1371.4 261.7 1371.4 261.9 1371.4 262.0 1371.5 262.2 1371.5 262.3 1371.6 262.4 1371.6 262.5 1372.6 262.7 1373.5 262.8 1374.5 262.9 1375.5 263.0 1376.4 263.0 1377.4 263.0 1378.0 262.9 1378.6 262.5 1379.2 261.8 1379.8 260.6 1380.4 259.1 1381.0 257.9 1381.6 257.4 1382.1 257.9 1382.7 259.0 1383.2 259.9 1383.8 260.4 1384.3 260.5 1385.3 260.5 1386.3 260.4 1387.2 260.4 1388.2 260.2 1389.2 260.1 1389.8 260.0 1390.4 259.5 1391.0 258.7 1391.6 257.5 1392.2 256.2 1392.8 255.7 1393.1 255.9 1393.5 256.3 1393.8 257.1 1394.1 258.0 1394.5 259.1 1394.8 260.2 1395.1 261.5 1395.4 262.7 1395.8 263.9 1396.1 265.0 1396.4 265.9 1396.8 266.7 1397.1 267.2 1397.9 267.9 1398.7 268.5 1399.5 269.0 1400.3 269.4 1401.1 270.0 1401.7 270.6 1402.4 271.2 1403.0 271.8 1403.6 272.5 1404.2 273.2 1404.9 273.9 1405.5 274.6" fill="none" stroke="#000" stroke-width="1.9" stroke-linejoin="round"/>
<path d="M130.3 706.5L131.2 706.3 132.2 706.1 133.2 705.9 134.1 705.7 135.1 705.5 136.0 705.3 136.8 705.0 137.7 704.7 138.5 704.3 139.3 703.9 140.1 703.6 141.0 703.4 141.8 703.3 142.4 703.8 143.0 705.0 143.6 705.9 144.2 706.4 144.8 706.5 145.8 706.5 146.8 706.5 147.8 706.5 148.8 706.5 149.8 706.5 150.8 706.5 151.8 706.5 152.7 706.5 153.7 706.5 154.7 706.5 155.7 706.5 156.7 706.5 157.7 706.5 158.7 706.5 159.7 706.5 160.7 706.5 161.7 706.5 162.7 706.5 163.7 706.5 164.7 706.5 165.7 706.5 166.7 706.5 167.7 706.5 168.6 706.5 169.6 706.5 170.6 706.5 171.6 706.5 172.6 706.5 173.6 706.5 174.6 706.5 175.6 706.5 175.9 706.4 176.3 706.0 176.6 705.4 176.9 704.6 177.3 703.7 177.6 702.6 177.9 701.5 178.3 700.3 178.6 699.0 178.7 698.4 178.9 697.6 179.0 696.7 179.1 695.6 179.3 694.5 179.4 693.3 179.6 692.1 179.7 690.9 179.8 689.8 180.0 688.7 180.1 687.8 180.2 687.0 180.4 686.4 180.5 686.0 181.2 685.0 181.8 684.4 182.4 683.9 183.1 683.0 183.3 682.4 183.5 681.6 183.8 680.5 184.0 679.3 184.2 678.0 184.4 676.7 184.6 675.5 184.8 674.4 185.1 673.6 185.3 673.0 185.5 672.8 185.8 673.0 186.1 673.6 186.4 674.5 186.6 675.6 186.9 676.8 187.2 678.0 187.5 679.1 187.7 679.9 187.9 680.8 188.1 681.9 188.3 683.0 188.5 684.1 188.7 685.3 188.9 686.5 189.1 687.7 189.3 688.8 189.5 689.9 189.7 690.8 189.9 691.7 190.1 692.4 190.3 693.0 190.5 693.4 191.2 694.4 191.9 695.2 192.7 695.8 193.4 696.0 193.8 695.7 194.2 695.0 194.6 694.1 195.0 693.0 195.4 692.0 195.7 691.2 196.0 690.1 196.3 689.0 196.6 687.8 196.9 686.8 197.2 685.9 197.5 685.3 197.8 685.1 198.1 685.4 198.4 686.3 198.6 687.6 198.9 689.1 199.2 690.8 199.5 692.3 199.7 693.6 200.0 694.6 200.3 695.4 200.6 695.9 200.8 696.3 201.1 696.5 201.4 696.6 201.7 696.4 202.1 696.0 202.4 695.2 202.8 693.9 203.1 692.3 203.5 691.0 203.8 690.4 204.2 690.7 204.5 691.5 204.9 692.6 205.3 693.9 205.7 695.1 206.0 696.0 206.4 696.6 207.3 697.2 208.1 697.8 209.0 698.3 209.9 698.7 210.7 699.0 211.6 699.2 212.4 699.4 213.3 699.4 214.3 699.4 215.3 699.4 216.3 699.4 217.2 699.4 218.2 699.4 219.2 699.4 220.2 699.4 220.5 699.3 220.9 699.0 221.2 698.6 221.5 697.9 221.8 696.9 222.2 695.5 222.5 693.9 222.8 692.3 223.1 690.8 223.5 689.8 223.8 689.4 224.2 689.7 224.7 690.6 225.2 691.9 225.6 693.5 226.1 695.0 226.5 696.4 226.9 697.5 227.4 698.3 227.8 698.9 228.3 699.3 228.8 699.5 229.2 699.6 230.1 699.6 231.0 699.5 231.9 699.5 232.8 699.4 233.7 699.2 234.6 699.0 235.5 698.7 236.4 698.5 237.3 698.2 238.2 698.1 239.1 698.0 239.9 698.4 240.7 698.9 241.5 699.0 242.0 698.8 242.5 698.2 243.1 697.1 243.6 695.7 244.1 695.0 244.9 695.3 245.7 695.8 246.4 696.3 247.2 696.5 248.0 696.6 248.2 696.5 248.5 696.2 248.8 695.8 249.0 695.2 249.2 694.3 249.5 693.1 249.8 691.6 250.0 689.9 250.2 688.3 250.5 686.8 250.8 685.8 251.0 685.5 251.4 685.8 251.9 686.6 252.3 687.9 252.7 689.4 253.1 691.0 253.6 692.6 254.0 694.0 254.4 695.2 254.9 696.2 255.3 696.9 255.7 697.4 256.1 697.7 256.6 697.9 257.0 698.0 257.9 697.9 258.8 697.8 259.8 697.6 260.7 697.3 261.6 696.8 262.5 696.2 263.5 695.6 264.4 695.2 265.3 695.0 266.1 695.2 266.9 695.9 267.8 696.7 268.6 697.5 269.4 698.0 270.2 698.4 271.1 698.5 271.9 698.6 272.9 698.6 273.9 698.6 274.9 698.6 275.9 698.6 276.9 698.6 277.8 698.6 278.8 698.6 279.8 698.6 280.8 698.6 281.8 698.6 282.8 698.6 283.6 698.5 284.4 698.2 285.2 697.6 286.1 696.7 286.9 695.8 287.7 695.4 288.6 695.4 289.5 695.4 290.4 695.5 291.3 695.5 292.2 695.6 293.1 695.7 294.0 695.7 294.9 695.8 295.8 695.9 296.7 696.0 297.7 696.1 298.7 696.3 299.7 696.5 300.6 696.7 301.6 696.8 302.6 697.0 303.6 697.0 304.5 697.0 305.4 696.9 306.3 696.8 307.3 696.7 308.2 696.6 309.1 696.5 310.0 696.3 310.9 696.1 311.8 696.0 312.8 695.8 313.7 695.7 314.6 695.5 315.5 695.4 316.5 695.3 317.5 695.2 318.5 695.1 319.5 695.0 320.5 695.0 321.5 694.9 322.4 694.8 323.4 694.7 324.4 694.6 325.4 694.5 326.4 694.3 327.4 694.2 328.4 694.0 329.2 693.8 330.1 693.5 330.9 693.0 331.7 692.5 332.6 691.8 333.4 691.0 333.7 690.6 333.9 690.0 334.2 689.3 334.5 688.5 334.8 687.5 335.0 686.5 335.3 685.5 335.6 684.3 335.9 683.2 336.1 682.1 336.4 681.1 336.6 680.3 336.8 679.5 337.0 678.6 337.3 677.7 337.5 676.8 337.7 675.9 337.9 675.0 338.1 674.1 338.3 673.1 338.5 672.1 338.8 671.2 339.0 670.2 339.2 669.2 339.4 668.2 339.6 667.3 339.8 666.3 340.0 665.3 340.1 664.2 340.3 663.1 340.5 661.9 340.7 660.8 340.9 659.6 341.1 658.4 341.3 657.2 341.4 656.1 341.6 655.0 341.8 653.9 342.0 652.9 342.2 652.0 342.4 651.1 342.6 650.3 342.7 649.7 342.9 649.1 343.1 648.6 343.3 648.3 344.1 647.5 344.8 647.0 345.6 646.5 346.3 645.8 346.6 645.3 346.9 644.6 347.2 643.7 347.6 642.6 347.9 641.5 348.2 640.2 348.5 639.0 348.8 637.7 349.1 636.4 349.4 635.2 349.7 634.1 350.1 633.1 350.4 632.3 350.7 631.6 351.0 631.2 351.3 631.1 351.5 631.2 351.7 631.6 351.9 632.3 352.1 633.2 352.3 634.4 352.5 635.7 352.7 637.2 352.9 638.8 353.1 640.5 353.3 642.3 353.5 644.1 353.7 645.8 353.9 647.6 354.1 649.3 354.3 650.8 354.5 652.3 354.6 653.7 354.8 655.0 355.0 656.1 355.2 657.1 355.4 658.0 355.6 658.8 355.8 659.5 356.0 660.0 356.2 660.5 356.4 660.9 356.6 661.3 356.8 661.5 357.0 661.8 357.2 661.9 357.4 662.1 357.6 662.2 357.7 662.1 357.9 662.0 358.0 661.8 358.2 661.6 358.3 661.4 358.5 661.1 358.6 660.8 358.7 660.5 358.9 660.1 359.0 659.6 359.2 659.1 359.3 658.5 359.5 657.8 359.6 657.0 359.7 656.2 359.9 655.3 360.0 654.2 360.2 653.1 360.3 651.9 360.5 650.6 360.6 649.2 360.7 647.7 360.9 646.1 361.0 644.5 361.2 642.8 361.3 641.0 361.5 639.3 361.6 637.5 361.7 635.7 361.9 633.9 362.0 632.1 362.2 630.5 362.3 628.9 362.5 627.4 362.6 626.0 362.7 624.7 362.9 623.7 363.0 622.8 363.2 622.0 363.3 621.5 363.5 621.2 363.6 621.1 363.8 621.1 364.0 621.3 364.2 621.5 364.4 621.9 364.6 622.3 364.8 622.8 365.0 623.3 365.3 624.0 365.5 624.7 365.7 625.5 365.9 626.3 366.1 627.2 366.3 628.2 366.5 629.2 366.7 630.2 366.9 631.3 367.1 632.5 367.3 633.6 367.5 634.8 367.7 636.1 367.9 637.3 368.1 638.6 368.4 639.9 368.6 641.2 368.8 642.5 369.0 643.8 369.2 645.1 369.4 646.4 369.6 647.7 369.8 649.0 370.0 650.3 370.2 651.6 370.4 652.8 370.6 654.0 370.8 655.2 371.0 656.4 371.2 657.5 371.4 658.5 371.7 659.6 371.9 660.6 372.1 661.5 372.3 662.4 372.5 663.2 372.7 663.9 372.9 664.6 373.1 665.2 373.5 666.3 373.9 667.5 374.3 668.6 374.7 669.8 375.1 670.8 375.5 671.9 375.9 672.8 376.3 673.6 376.7 674.3 377.1 674.8 377.5 675.1 377.9 675.2 378.2 675.1 378.4 674.9 378.7 674.8 378.9 674.5 379.2 674.3 379.4 673.9 379.7 673.5 379.9 673.0 380.2 672.3 380.4 671.6 380.7 670.8 380.9 669.8 381.2 668.7 381.4 667.5 381.7 666.2 382.0 664.7 382.2 663.1 382.5 661.5 382.7 659.8 383.0 658.0 383.2 656.3 383.5 654.6 383.7 653.0 384.0 651.4 384.2 650.1 384.5 648.9 384.7 648.0 385.0 647.3 385.2 646.8 385.5 646.7 386.0 646.9 386.5 647.4 387.0 648.1 387.5 649.0 387.9 650.0 388.4 651.1 388.9 652.1 389.4 653.1 389.9 654.0 390.4 654.9 391.0 656.0 391.5 657.0 392.1 658.1 392.6 659.1 393.2 660.0 393.7 660.7 394.3 661.1 394.8 661.3 394.9 661.2 395.0 661.1 395.1 660.9 395.2 660.8 395.3 660.6 395.4 660.5 395.5 660.3 395.6 660.1 395.7 659.8 395.8 659.6 395.9 659.3 396.0 658.9 396.1 658.6 396.2 658.2 396.3 657.8 396.4 657.4 396.5 656.9 396.6 656.4 396.6 655.8 396.7 655.2 396.8 654.6 396.9 653.9 397.0 653.2 397.1 652.4 397.2 651.6 397.3 650.7 397.4 649.8 397.5 648.8 397.6 647.7 397.7 646.6 397.8 645.5 397.9 644.2 398.0 643.0 398.1 641.7 398.2 640.3 398.3 638.9 398.4 637.4 398.5 635.8 398.6 634.3 398.7 632.7 398.8 631.0 398.9 629.3 399.0 627.6 399.1 625.8 399.2 624.1 399.3 622.3 399.4 620.5 399.5 618.7 399.6 616.9 399.7 615.1 399.8 613.3 399.9 611.5 400.0 609.8 400.1 608.1 400.1 606.4 400.2 604.8 400.3 603.2 400.4 601.7 400.5 600.3 400.6 598.9 400.7 597.6 400.8 596.5 400.9 595.4 401.0 594.4 401.1 593.5 401.2 592.7 401.3 592.0 401.4 591.5 401.5 591.1 401.6 590.7 401.7 590.6 401.8 590.5 401.9 590.6 402.0 590.7 402.2 591.0 402.3 591.3 402.4 591.8 402.5 592.3 402.6 592.9 402.8 593.6 402.9 594.3 403.0 595.1 403.1 596.0 403.2 597.0 403.4 598.0 403.5 599.0 403.6 600.1 403.7 601.3 403.8 602.5 404.0 603.7 404.1 604.9 404.2 606.2 404.3 607.5 404.4 608.8 404.5 610.1 404.7 611.5 404.8 612.8 404.9 614.1 405.0 615.5 405.1 616.8 405.3 618.1 405.4 619.4 405.5 620.7 405.6 621.9 405.7 623.1 405.9 624.3 406.0 625.4 406.1 626.5 406.2 627.6 406.3 628.6 406.5 629.5 406.6 630.4 406.7 631.2 406.9 632.3 407.0 633.5 407.2 634.7 407.4 635.8 407.6 637.0 407.7 638.1 407.9 639.3 408.1 640.4 408.3 641.5 408.4 642.6 408.6 643.7 408.8 644.8 409.0 645.8 409.1 646.7 409.3 647.6 409.5 648.5 409.7 649.4 409.8 650.1 410.0 650.8 410.2 651.5 410.4 652.1 410.5 652.6 410.7 653.0 411.3 654.2 411.9 655.3 412.5 656.2 413.1 656.9 413.6 657.6 414.2 658.3 414.8 658.9 415.4 659.5 416.0 660.2 416.6 661.0 417.1 661.8 417.7 662.7 418.2 663.6 418.8 664.5 419.3 665.4 419.9 666.3 420.4 667.2 421.0 668.0 421.5 668.7 422.1 669.4 422.6 669.9 423.4 670.5 424.3 671.1 425.1 671.6 425.9 672.0 426.8 672.4 427.6 672.9 428.4 673.5 429.2 674.1 430.1 674.7 430.9 675.3 431.7 675.7 432.5 675.8 433.1 675.7 433.8 675.3 434.4 674.8 435.0 674.0 435.6 673.1 436.2 672.1 436.9 671.1 437.5 669.9 437.7 669.4 437.9 668.9 438.2 668.2 438.4 667.5 438.6 666.7 438.8 665.8 439.1 664.9 439.3 663.9 439.5 662.9 439.7 661.9 439.9 660.8 440.2 659.7 440.4 658.6 440.6 657.4 440.8 656.3 441.1 655.2 441.3 654.1 441.5 653.0 441.7 652.2 441.8 651.4 442.0 650.6 442.2 649.8 442.3 649.0 442.5 648.2 442.7 647.4 442.9 646.6 443.0 645.7 443.2 644.9 443.4 644.0 443.5 643.1 443.7 642.2 443.9 641.3 444.0 640.3 444.2 639.3 444.4 638.3 444.6 637.2 444.7 636.1 444.9 635.0 445.1 633.8 445.2 632.5 445.4 631.2 445.5 630.7 445.5 630.1 445.6 629.5 445.7 628.9 445.7 628.2 445.8 627.5 445.9 626.8 445.9 626.0 446.0 625.2 446.0 624.4 446.1 623.6 446.2 622.7 446.2 621.8 446.3 620.8 446.4 619.9 446.4 618.9 446.5 617.9 446.6 616.9 446.6 615.8 446.7 614.7 446.8 613.6 446.8 612.5 446.9 611.4 447.0 610.2 447.0 609.0 447.1 607.9 447.1 606.6 447.2 605.4 447.3 604.2 447.3 602.9 447.4 601.7 447.5 600.4 447.5 599.1 447.6 597.8 447.7 596.5 447.7 595.1 447.8 593.8 447.9 592.5 447.9 591.1 448.0 589.8 448.1 588.4 448.1 587.0 448.2 585.6 448.3 584.3 448.3 582.9 448.4 581.5 448.4 580.1 448.5 578.7 448.6 577.4 448.6 576.0 448.7 574.6 448.8 573.2 448.8 571.8 448.9 570.5 449.0 569.1 449.0 567.8 449.1 566.4 449.2 565.1 449.2 563.7 449.3 562.4 449.4 561.1 449.4 559.7 449.5 558.4 449.5 557.2 449.6 555.9 449.7 554.6 449.7 553.4 449.8 552.1 449.9 550.9 449.9 549.7 450.0 548.5 450.1 547.4 450.1 546.2 450.2 545.1 450.3 544.0 450.3 542.9 450.4 541.8 450.5 540.8 450.5 539.7 450.6 538.7 450.6 537.8 450.7 536.8 450.8 535.9 450.8 535.0 450.9 534.1 451.0 533.3 451.0 532.5 451.1 531.7 451.2 530.9 451.2 530.2 451.3 529.5 451.4 528.9 451.4 528.2 451.5 527.7 451.6 527.1 451.6 526.6 451.7 526.1 451.8 525.7 451.8 525.3 451.9 524.9 451.9 524.6 452.0 524.3 452.1 524.1 452.1 523.9 452.2 523.7 452.3 523.6 452.3 523.5 452.4 523.5 452.5 523.5 452.5 523.6 452.6 523.7 452.7 523.9 452.7 524.1 452.8 524.4 452.9 524.7 452.9 525.1 453.0 525.5 453.1 526.0 453.1 526.5 453.2 527.0 453.3 527.6 453.3 528.2 453.4 528.9 453.5 529.6 453.5 530.3 453.6 531.1 453.7 531.9 453.7 532.7 453.8 533.6 453.9 534.5 453.9 535.4 454.0 536.4 454.1 537.4 454.1 538.4 454.2 539.4 454.3 540.5 454.3 541.5 454.4 542.7 454.5 543.8 454.5 544.9 454.6 546.1 454.7 547.3 454.7 548.5 454.8 549.7 454.9 550.9 455.0 552.1 455.0 553.4 455.1 554.6 455.2 555.9 455.2 557.2 455.3 558.5 455.4 559.8 455.4 561.1 455.5 562.4 455.6 563.7 455.6 565.0 455.7 566.3 455.8 567.6 455.8 569.0 455.9 570.3 456.0 571.6 456.0 572.9 456.1 574.2 456.2 575.5 456.2 576.7 456.3 578.0 456.4 579.3 456.4 580.5 456.5 581.8 456.6 583.0 456.6 584.2 456.7 585.4 456.8 586.6 456.8 587.8 456.9 588.9 457.0 590.1 457.0 591.2 457.1 592.3 457.2 593.3 457.2 594.4 457.3 595.4 457.4 596.4 457.4 597.4 457.5 598.5 457.6 599.6 457.6 600.7 457.7 601.8 457.8 603.0 457.8 604.1 457.9 605.3 458.0 606.5 458.0 607.7 458.1 609.0 458.1 610.2 458.2 611.4 458.3 612.7 458.3 613.9 458.4 615.2 458.5 616.4 458.5 617.6 458.6 618.9 458.7 620.1 458.7 621.3 458.8 622.5 458.9 623.7 458.9 624.8 459.0 626.0 459.1 627.1 459.1 628.2 459.2 629.2 459.3 630.3 459.3 631.3 459.4 632.3 459.5 633.2 459.5 634.1 459.6 634.9 459.6 635.8 459.7 636.5 459.8 637.3 459.8 637.9 459.9 638.6 460.0 639.1 460.0 639.6 460.1 640.1 460.2 640.5 460.2 640.8 460.3 641.1 460.7 642.4 461.0 643.6 461.4 644.6 461.8 645.4 462.2 646.1 462.5 646.5 462.9 646.6 463.6 646.5 464.3 646.1 464.9 645.4 465.6 644.5 466.3 644.1 466.9 644.3 467.5 644.7 468.1 645.3 468.8 646.1 469.4 647.1 470.0 648.0 470.6 649.0 471.2 650.0 471.6 650.7 472.0 651.5 472.4 652.3 472.9 653.2 473.3 654.1 473.7 655.1 474.1 656.0 474.5 656.9 474.9 657.8 475.4 658.6 475.8 659.4 476.2 660.0 476.9 661.0 477.6 661.9 478.3 662.9 478.9 663.8 479.6 664.7 480.3 665.6 481.0 666.4 481.7 667.1 482.4 667.7 483.0 668.2 483.7 668.6 484.4 668.8 485.1 668.9 485.6 668.7 486.1 668.1 486.6 667.3 487.1 666.3 487.6 665.3 488.1 664.2 488.6 663.1 489.1 662.3 489.6 661.6 490.1 661.3 491.0 661.1 491.8 660.9 492.7 660.8 493.5 660.7 494.4 660.6 495.2 660.5 496.1 660.5 496.9 660.8 497.6 661.6 498.4 662.6 499.2 663.7 499.9 664.6 500.7 665.2 501.5 665.6 502.2 665.8 503.0 665.9 503.6 665.8 504.2 665.6 504.9 665.3 505.5 664.8 506.1 664.1 506.8 663.1 507.4 661.9 508.0 660.5 508.6 659.2 509.2 658.1 509.9 657.3 510.5 657.0 511.2 657.2 511.8 657.8 512.5 658.6 513.2 659.7 513.9 661.0 514.5 662.3 515.2 663.6 515.9 664.8 516.5 665.9 517.2 666.8 517.9 667.5 518.5 668.1 519.2 668.5 519.9 668.9 520.6 669.1 521.2 669.2 521.9 669.3 522.5 669.2 523.0 669.0 523.6 668.8 524.1 668.4 524.7 668.0 525.2 667.3 525.8 666.4 526.3 665.4 526.9 664.2 527.5 662.8 528.0 661.4 528.6 660.0 529.1 658.8 529.7 657.8 530.2 657.2 530.8 657.0 531.7 657.2 532.6 657.6 533.5 658.2 534.4 658.9 535.3 659.7 536.2 660.3 537.2 660.9 538.1 661.3 539.0 661.6 539.9 661.7 540.8 661.8 541.7 661.9 542.5 661.8 543.2 661.6 544.0 661.3 544.7 661.0 545.1 660.9 545.4 660.7 545.8 660.5 546.2 660.2 546.5 659.7 546.9 659.1 547.2 658.4 547.6 657.4 548.0 656.3 548.3 655.0 548.7 653.5 549.1 651.9 549.4 650.3 549.8 648.7 550.1 647.2 550.5 645.9 550.9 644.9 551.2 644.3 551.6 644.1 552.4 644.4 553.2 645.1 554.0 646.1 554.8 647.2 555.6 648.1 556.4 648.9 557.2 649.4 558.0 649.7 558.8 649.9 559.6 650.0 559.8 649.9 559.9 649.6 560.1 649.2 560.2 648.6 560.4 647.9 560.5 647.0 560.6 646.1 560.8 645.0 561.0 643.9 561.1 642.6 561.2 641.4 561.4 640.1 561.5 638.7 561.7 637.4 561.9 636.0 562.0 634.7 562.1 633.4 562.3 632.1 562.5 630.9 562.6 629.8 562.8 628.7 562.9 627.8 563.0 626.9 563.2 626.2 563.4 625.6 563.5 625.2 564.1 623.9 564.7 622.6 565.2 621.4 565.8 620.4 566.4 619.4 567.0 618.5 567.6 617.7 568.2 617.1 568.8 616.6 569.3 616.2 569.9 616.0 570.5 615.9 571.1 616.1 571.6 616.6 572.2 617.4 572.8 618.5 573.4 619.8 574.0 621.2 574.5 622.6 575.1 624.0 575.7 625.4 576.2 626.6 576.8 627.7 577.4 628.6 578.0 629.4 578.5 630.0 579.1 630.5 579.7 630.9 580.3 631.2 580.9 631.4 581.4 631.5 582.0 631.6 582.2 631.5 582.4 631.4 582.6 631.2 582.8 631.1 583.0 630.9 583.2 630.6 583.4 630.4 583.6 630.1 583.9 629.7 584.1 629.3 584.3 628.9 584.5 628.4 584.7 627.9 584.9 627.2 585.1 626.6 585.3 625.8 585.5 625.0 585.7 624.1 585.9 623.1 586.1 622.0 586.3 620.9 586.5 619.7 586.7 618.4 587.0 617.0 587.2 615.5 587.4 614.0 587.6 612.4 587.8 610.8 588.0 609.1 588.2 607.4 588.4 605.6 588.6 603.8 588.8 602.1 589.0 600.3 589.2 598.6 589.4 596.9 589.6 595.3 589.8 593.8 590.0 592.3 590.2 591.0 590.5 589.8 590.7 588.7 590.9 587.7 591.1 586.9 591.3 586.3 591.5 585.9 591.7 585.6 591.9 585.5 592.2 585.5 592.4 585.7 592.7 585.9 593.0 586.2 593.2 586.6 593.5 587.1 593.8 587.6 594.0 588.3 594.3 588.9 594.6 589.7 594.8 590.5 595.1 591.4 595.4 592.3 595.6 593.2 595.9 594.2 596.2 595.3 596.4 596.4 596.7 597.5 597.0 598.7 597.2 599.9 597.5 601.1 597.8 602.3 598.0 603.6 598.3 604.8 598.6 606.1 598.9 607.4 599.1 608.7 599.4 610.0 599.7 611.3 599.9 612.5 600.2 613.8 600.5 615.1 600.7 616.3 601.0 617.5 601.3 618.7 601.5 619.9 601.8 621.0 602.1 622.1 602.3 623.2 602.6 624.2 602.9 625.2 603.1 626.1 603.4 626.9 603.7 627.8 603.9 628.5 604.2 629.2 604.7 630.3 605.1 631.5 605.6 632.6 606.0 633.8 606.5 635.0 606.9 636.2 607.4 637.3 607.8 638.5 608.2 639.6 608.7 640.6 609.2 641.6 609.6 642.5 610.1 643.4 610.5 644.2 611.0 644.8 611.4 645.4 611.9 645.9 612.3 646.2 612.8 646.4 613.2 646.5 613.4 646.4 613.6 646.1 613.7 645.6 613.9 645.0 614.1 644.2 614.3 643.2 614.5 642.2 614.7 641.1 614.8 639.8 615.0 638.6 615.2 637.3 615.4 635.9 615.6 634.6 615.7 633.3 615.9 632.0 616.1 630.7 616.3 629.5 616.5 628.4 616.7 627.4 616.8 626.6 617.0 625.8 617.2 625.2 617.6 624.0 618.1 622.8 618.5 621.7 619.0 620.6 619.4 619.7 619.9 618.8 620.3 618.0 620.8 617.3 621.2 616.7 621.7 616.3 622.1 615.9 622.9 615.5 623.7 615.3 624.5 614.8 624.7 614.7 625.0 614.4 625.2 613.8 625.5 612.9 625.7 611.6 626.0 610.0 626.2 608.5 626.5 607.3 626.7 606.9 627.2 607.4 627.7 608.7 628.2 610.0 628.7 610.8 629.2 611.3 629.7 611.4 630.6 611.5 631.5 611.6 632.5 611.7 633.4 611.8 633.9 612.0 634.3 612.4 634.8 612.9 635.2 613.6 635.7 614.5 636.2 615.4 636.6 616.4 637.1 617.4 637.6 618.5 638.0 619.6 638.5 620.6 638.9 621.6 639.4 622.5 639.8 623.4 640.3 624.4 640.7 625.5 641.1 626.6 641.6 627.7 642.0 628.9 642.4 630.0 642.8 631.0 643.3 631.9 643.7 632.6 644.1 633.2 644.6 633.6 645.0 633.7 645.3 633.5 645.7 632.9 646.0 632.1 646.3 631.0 646.7 629.7 647.0 628.4 647.3 627.1 647.7 625.8 648.0 624.6 648.3 623.6 648.7 622.9 649.0 622.5 649.8 622.0 650.6 621.6 651.5 621.4 652.3 621.2 653.1 621.1 653.7 621.2 654.2 621.6 654.8 622.2 655.3 623.0 655.9 623.9 656.5 624.8 657.0 625.8 657.6 626.8 658.1 627.7 658.7 628.5 659.3 629.3 659.9 630.1 660.4 630.9 661.0 631.7 661.6 632.4 662.2 633.2 662.7 633.9 663.3 634.6 663.9 635.2 664.6 635.9 665.3 636.7 666.0 637.5 666.7 638.1 667.4 638.7 668.1 639.1 668.8 639.2 669.1 639.1 669.3 638.7 669.6 638.1 669.9 637.3 670.2 636.3 670.4 635.2 670.7 634.1 671.0 632.8 671.3 631.6 671.5 630.4 671.8 629.2 672.1 628.1 672.4 627.1 672.6 626.2 672.9 625.5 673.4 624.4 673.9 623.3 674.4 622.3 674.9 621.3 675.3 620.4 675.8 619.6 676.3 619.0 676.8 618.6 677.3 618.5 677.9 618.9 678.6 619.7 679.2 620.2 679.9 620.3 680.3 620.1 680.8 619.5 681.2 618.7 681.6 617.6 682.0 616.5 682.4 615.4 682.9 614.4 683.3 613.6 683.9 612.6 684.4 611.6 685.0 610.6 685.5 609.6 686.1 608.7 686.7 608.0 687.2 607.6 687.8 607.4 688.5 607.6 689.3 608.1 690.0 608.8 690.8 609.6 691.5 610.4 692.3 611.2 693.0 611.8 693.8 612.3 694.5 612.8 695.2 613.3 696.0 613.6 696.9 613.9 697.8 614.1 698.6 614.3 699.5 614.5 700.4 614.8 701.0 615.2 701.5 615.8 702.1 616.5 702.6 617.4 703.2 618.4 703.8 619.3 704.3 620.3 704.9 621.1 705.4 621.9 706.0 622.9 706.5 623.8 707.0 624.8 707.5 625.7 708.0 626.4 708.6 626.8 709.1 627.0 709.6 626.7 710.2 626.0 710.7 625.1 711.2 624.0 711.8 623.1 712.3 622.5 713.2 621.9 714.0 621.3 714.9 620.7 715.7 620.3 716.6 619.9 717.4 619.7 718.3 619.6 719.0 619.8 719.6 620.2 720.3 620.9 720.9 621.8 721.6 622.7 722.2 623.7 722.9 624.7 723.5 625.6 724.2 626.3 725.0 627.0 725.7 627.7 726.5 628.3 727.2 628.8 728.0 629.3 728.7 629.9 729.5 630.4 730.2 630.8 731.0 631.1 731.7 631.2 732.7 631.1 733.6 631.0 734.6 630.8 735.5 630.3 736.5 629.8 737.4 629.4 738.4 629.2 739.2 629.4 740.1 629.9 740.9 630.5 741.8 631.0 742.6 631.5 743.4 631.7 744.3 631.8 745.1 631.9 746.0 631.9 746.9 631.9 747.8 631.9 748.7 631.8 749.6 631.8 750.5 631.7 751.4 631.7 752.2 631.6 753.1 631.5 754.0 631.5 754.9 631.7 755.8 632.3 756.7 632.7 757.6 632.9 758.5 633.0 759.4 633.0 760.3 632.9 761.2 632.7 762.1 632.4 763.1 631.9 764.0 631.4 764.9 630.9 765.8 630.5 766.7 630.4 767.6 630.5 768.5 630.6 769.4 630.8 770.3 631.1 771.3 631.2 772.2 631.4 773.1 631.4 774.0 631.5 774.9 631.5 775.5 631.3 776.2 630.7 776.8 629.8 777.4 628.9 778.0 627.9 778.7 627.0 779.3 626.3 780.1 625.6 781.0 624.9 781.8 624.2 782.6 623.6 783.5 623.0 784.3 622.5 785.1 622.1 786.0 621.9 786.8 621.8 787.7 622.1 788.6 622.8 789.5 623.3 790.4 623.6 791.3 623.7 792.2 623.6 793.0 623.4 793.9 622.9 794.8 622.1 795.6 621.4 796.5 621.1 797.3 621.3 798.2 621.9 799.0 622.7 799.9 623.4 800.7 623.9 801.5 624.3 802.4 624.4 803.2 624.5 803.6 624.3 803.9 623.9 804.3 623.2 804.7 622.3 805.0 621.2 805.4 620.1 805.8 618.9 806.1 617.8 806.5 616.7 806.9 615.7 807.2 614.9 807.6 614.4 808.4 613.6 809.1 612.8 809.9 612.0 810.6 611.3 811.4 610.7 812.1 610.2 812.9 609.7 813.6 609.4 814.4 609.2 815.1 609.1 815.6 609.2 816.2 609.6 816.7 610.2 817.2 611.0 817.8 611.9 818.3 612.9 818.9 613.9 819.4 614.9 819.9 615.8 820.5 616.6 821.0 617.3 821.7 618.1 822.4 618.9 823.0 619.7 823.7 620.5 824.4 621.3 825.1 622.0 825.8 622.7 826.5 623.2 827.1 623.6 827.8 623.9 828.5 624.0 829.2 623.9 830.0 623.7 830.7 623.3 831.5 622.7 832.2 621.9 832.9 621.0 833.7 620.3 834.4 620.0 835.3 620.1 836.3 620.2 837.2 620.5 838.1 620.8 839.1 621.2 840.0 621.5 841.0 621.9 841.9 622.2 842.8 622.5 843.6 622.9 844.5 623.3 845.4 623.7 846.2 623.9 847.1 624.0 848.0 624.0 848.8 623.9 849.7 623.7 850.6 623.6 851.4 623.4 852.3 623.3 853.2 623.2 854.0 623.1 854.9 623.0 855.7 622.9 856.6 622.8 857.4 622.7 858.3 622.5 859.0 622.1 859.8 621.5 860.5 620.7 861.2 619.9 862.0 619.1 862.7 618.5 863.5 618.1 864.2 617.7 865.0 617.4 865.7 617.0 866.5 616.7 867.2 616.3 867.9 616.0 868.5 615.6 869.1 615.2 869.8 614.6 870.1 614.2 870.4 613.6 870.7 612.8 871.0 612.0 871.3 611.0 871.7 610.0 872.0 608.9 872.3 607.8 872.6 606.7 872.9 605.7 873.2 604.7 873.5 603.9 873.8 603.0 874.0 602.2 874.3 601.4 874.6 600.5 874.9 599.7 875.2 598.8 875.5 597.9 875.7 597.0 876.0 596.1 876.3 595.1 876.5 594.2 876.8 593.3 877.0 592.3 877.2 591.3 877.5 590.3 877.7 589.2 877.9 588.2 878.2 587.2 878.4 586.3 878.6 585.4 878.9 584.7 879.1 584.0 879.5 583.0 879.9 582.1 880.3 581.2 880.7 580.5 881.1 579.9 881.5 579.4 882.2 578.6 883.0 577.9 883.7 577.2 884.5 576.6 885.2 576.1 886.0 575.6 886.7 575.3 887.5 575.1 888.2 575.0 888.7 575.1 889.1 575.5 889.6 576.2 890.0 577.0 890.5 577.9 890.9 579.0 891.4 580.1 891.8 581.3 892.3 582.5 892.7 583.6 893.2 584.6 893.6 585.5 894.0 586.4 894.3 587.4 894.7 588.4 895.1 589.5 895.5 590.5 895.9 591.6 896.3 592.7 896.6 593.8 897.0 594.8 897.4 595.9 897.8 596.8 898.2 597.7 898.6 598.5 898.9 599.2 899.3 599.8 899.7 600.3 900.4 601.1 901.2 601.8 901.9 602.5 902.7 603.0 903.4 603.5 904.2 603.9 904.9 604.2 905.8 604.5 906.6 604.8 907.5 605.0 908.4 605.2 909.2 605.4 910.1 605.6 911.0 605.8 911.8 605.9 912.7 606.0 913.7 606.1 914.6 606.2 915.6 606.3 916.5 606.3 917.5 606.4 918.4 606.5 919.4 606.5 920.3 606.6 921.3 606.6 922.2 606.7 923.2 606.8 924.1 606.9 925.1 607.0 926.0 607.1 927.0 607.2 927.9 607.3 928.9 607.4 929.8 607.6 930.8 607.7 931.7 607.8 932.7 608.0 933.6 608.1 934.6 608.3 935.5 608.5 936.5 608.7 937.5 608.9 938.5 609.1 939.5 609.2 940.4 609.4 941.4 609.4 942.3 609.4 943.3 609.3 944.2 609.1 945.2 608.9 946.1 608.5 947.1 608.1 948.0 607.5 949.0 607.0 949.9 606.5 950.9 606.1 951.8 606.0 952.7 606.0 953.7 606.0 954.6 606.1 955.6 606.2 956.5 606.2 957.5 606.3 958.4 606.4 959.4 606.5 960.3 606.6 961.3 606.7 962.2 606.8 963.1 606.9 964.1 607.0 965.0 607.1 965.9 607.2 966.9 607.3 967.8 607.5 968.8 607.6 969.7 607.7 970.6 607.8 971.6 607.9 972.5 608.0 973.4 608.0 974.4 608.1 975.3 608.1 975.9 608.0 976.5 607.9 977.1 607.7 977.7 607.4 978.3 607.0 978.9 606.5 979.5 605.9 980.1 605.1 980.7 604.2 981.2 603.1 981.8 601.9 982.4 600.5 983.0 599.1 983.6 597.6 984.2 596.2 984.8 594.9 985.4 593.8 986.0 593.0 986.6 592.5 987.2 592.3 987.9 592.5 988.7 592.9 989.4 593.6 990.1 594.4 990.8 595.2 991.6 596.1 992.3 596.8 993.0 597.4 993.6 598.1 994.3 598.8 995.0 599.5 995.6 600.2 996.3 600.9 997.0 601.5 997.7 602.2 998.3 602.8 999.0 603.3 999.7 603.8 1000.4 604.3 1001.1 604.8 1001.8 605.2 1002.5 605.6 1003.4 606.1 1004.2 606.7 1005.1 607.3 1006.0 607.9 1006.8 608.5 1007.7 609.1 1008.6 609.6 1009.4 610.1 1010.3 610.4 1011.2 610.7 1012.0 610.9 1012.9 611.0 1013.7 610.9 1014.5 610.8 1015.4 610.6 1016.2 610.3 1017.0 609.8 1017.8 609.2 1018.7 608.4 1019.5 607.6 1020.3 606.7 1021.1 606.0 1022.0 605.5 1022.8 605.3 1023.6 605.4 1024.4 605.7 1025.2 606.1 1026.0 606.6 1026.8 607.2 1027.5 607.9 1028.3 608.5 1029.1 609.1 1029.9 609.7 1030.7 610.2 1031.5 610.5 1032.4 610.8 1033.2 611.1 1034.1 611.3 1035.0 611.4 1035.4 611.2 1035.8 610.7 1036.3 609.9 1036.7 609.0 1037.1 607.9 1037.5 606.7 1037.9 605.6 1038.4 604.5 1038.8 603.7 1039.2 603.0 1039.9 602.1 1040.6 601.2 1041.3 600.4 1042.0 599.6 1042.7 599.0 1043.4 598.5 1044.1 598.1 1044.8 598.0 1045.6 598.1 1046.3 598.5 1047.1 599.1 1047.8 599.9 1048.6 600.6 1049.3 601.4 1050.1 602.2 1050.7 602.9 1051.4 603.7 1052.0 604.6 1052.7 605.4 1053.3 606.3 1053.9 607.0 1054.6 607.6 1055.2 608.0 1056.0 608.3 1056.9 608.6 1057.7 608.8 1058.5 609.0 1059.4 609.2 1060.2 609.2 1061.1 609.2 1062.1 609.2 1063.0 609.1 1063.9 609.0 1064.9 608.9 1065.8 608.8 1066.7 608.6 1067.7 608.5 1068.6 608.5 1069.6 608.7 1070.5 609.0 1071.5 609.5 1072.4 609.8 1073.4 610.0 1074.3 610.2 1075.3 610.2 1076.3 610.2 1077.2 610.2 1078.2 610.2 1079.1 610.2 1080.1 610.2 1081.0 610.2 1082.0 610.2 1082.8 610.2 1083.7 610.1 1084.5 610.1 1085.3 610.0 1086.2 609.8 1087.0 609.7 1087.8 609.5 1088.7 609.1 1089.5 608.5 1090.3 607.9 1091.2 607.3 1092.0 606.6 1092.9 606.0 1093.7 605.5 1094.5 605.1 1095.4 604.6 1096.2 604.2 1097.1 603.8 1097.9 603.4 1098.7 603.0 1099.6 602.6 1100.4 602.2 1101.2 601.8 1102.1 601.4 1102.9 601.1 1103.7 600.7 1104.5 600.2 1105.4 599.6 1106.2 598.8 1106.5 598.3 1106.8 597.6 1107.1 596.7 1107.4 595.6 1107.6 594.5 1107.9 593.3 1108.2 592.2 1108.5 591.2 1108.8 590.4 1109.2 589.4 1109.6 588.3 1110.0 587.3 1110.4 586.4 1110.9 585.5 1111.3 584.8 1111.7 584.2 1112.1 583.7 1112.9 582.9 1113.8 582.3 1114.6 581.7 1115.5 581.3 1116.3 581.2 1117.1 581.6 1117.9 582.4 1118.8 582.8 1119.6 582.9 1120.1 582.8 1120.5 582.4 1121.0 581.8 1121.5 581.0 1121.9 580.1 1122.4 579.0 1122.9 577.9 1123.3 576.6 1123.8 575.4 1124.0 574.9 1124.1 574.3 1124.3 573.6 1124.5 572.8 1124.6 571.9 1124.8 571.0 1124.9 569.9 1125.1 568.8 1125.3 567.7 1125.4 566.5 1125.6 565.2 1125.8 563.9 1125.9 562.6 1126.1 561.3 1126.2 560.0 1126.4 558.6 1126.6 557.3 1126.7 555.9 1126.9 554.6 1127.1 553.3 1127.2 552.0 1127.4 550.8 1127.5 549.6 1127.7 548.5 1127.9 547.4 1128.0 546.4 1128.2 545.5 1128.4 544.6 1128.5 543.9 1128.7 543.2 1128.8 542.6 1129.0 542.2 1129.2 541.9 1129.3 541.7 1129.5 541.6 1129.8 541.7 1130.0 541.9 1130.3 542.4 1130.6 542.9 1130.8 543.6 1131.1 544.4 1131.3 545.3 1131.6 546.3 1131.9 547.3 1132.1 548.5 1132.4 549.6 1132.7 550.9 1132.9 552.1 1133.2 553.3 1133.5 554.6 1133.7 555.8 1134.0 557.0 1134.2 558.2 1134.5 559.3 1134.8 560.4 1135.0 561.3 1135.3 562.2 1135.6 563.2 1135.9 564.3 1136.3 565.3 1136.6 566.4 1136.9 567.4 1137.2 568.5 1137.6 569.5 1137.9 570.5 1138.2 571.5 1138.5 572.5 1138.9 573.4 1139.2 574.2 1139.5 575.0 1139.8 575.8 1140.2 576.4 1140.5 577.0 1140.8 577.5 1141.5 578.4 1142.1 579.2 1142.8 579.9 1143.5 580.5 1144.2 581.1 1144.8 581.6 1145.5 582.0 1146.3 582.5 1147.2 582.9 1148.0 583.3 1148.9 583.7 1149.8 584.1 1150.6 584.4 1151.5 584.7 1152.3 585.1 1153.1 585.5 1154.0 585.9 1154.8 586.3 1155.7 586.7 1156.5 587.0 1157.3 587.4 1158.2 587.7 1159.0 587.9 1159.9 588.1 1160.7 588.3 1161.6 588.4 1162.4 588.5 1163.3 588.7 1164.1 588.8 1165.0 589.0 1165.9 589.2 1166.8 589.5 1167.7 589.8 1168.6 590.1 1169.5 590.4 1170.4 590.5 1171.3 590.6 1171.8 590.5 1172.3 590.2 1172.8 589.6 1173.2 588.7 1173.7 587.4 1174.2 586.1 1174.7 585.0 1175.2 584.6 1175.6 584.8 1176.1 585.4 1176.5 586.2 1176.9 587.2 1177.4 588.3 1177.8 589.4 1178.2 590.4 1178.7 591.3 1179.1 591.9 1179.9 592.7 1180.6 593.5 1181.4 594.2 1182.2 594.9 1183.0 595.4 1183.8 595.8 1184.5 596.1 1185.3 596.2 1185.5 596.1 1185.6 595.7 1185.8 595.2 1185.9 594.5 1186.1 593.7 1186.3 592.7 1186.4 591.6 1186.6 590.4 1186.8 589.2 1186.9 587.9 1187.1 586.7 1187.2 585.4 1187.4 584.2 1187.5 583.5 1187.6 582.8 1187.7 582.0 1187.7 581.1 1187.8 580.2 1187.9 579.2 1188.0 578.2 1188.1 577.2 1188.2 576.0 1188.3 574.9 1188.3 573.7 1188.4 572.5 1188.5 571.2 1188.6 570.0 1188.7 568.7 1188.8 567.3 1188.9 566.0 1188.9 564.7 1189.0 563.3 1189.1 562.0 1189.2 560.6 1189.3 559.2 1189.4 557.9 1189.5 556.6 1189.5 555.2 1189.6 553.9 1189.7 552.6 1189.8 551.4 1189.9 550.1 1190.0 548.9 1190.0 547.8 1190.1 546.6 1190.2 545.5 1190.3 544.5 1190.4 543.5 1190.5 542.5 1190.6 541.6 1190.6 540.8 1190.7 540.0 1190.8 539.3 1190.9 538.7 1191.0 538.1 1191.1 537.7 1191.2 537.2 1191.2 536.9 1191.3 536.7 1191.4 536.5 1191.5 536.5 1191.6 536.6 1191.8 536.8 1191.9 537.1 1192.0 537.5 1192.1 538.1 1192.3 538.7 1192.4 539.5 1192.5 540.3 1192.7 541.2 1192.8 542.2 1192.9 543.3 1193.0 544.4 1193.2 545.5 1193.3 546.8 1193.4 548.0 1193.5 549.3 1193.7 550.6 1193.8 552.0 1193.9 553.3 1194.1 554.7 1194.2 556.1 1194.3 557.4 1194.4 558.8 1194.6 560.1 1194.7 561.4 1194.8 562.6 1194.9 563.9 1195.1 565.0 1195.2 566.1 1195.3 567.2 1195.5 568.2 1195.6 569.1 1195.7 569.9 1195.8 570.6 1196.0 571.3 1196.1 571.8 1196.5 573.1 1196.8 574.3 1197.2 575.3 1197.6 576.3 1197.9 577.2 1198.3 578.0 1198.7 578.7 1199.0 579.5 1199.4 580.2 1199.7 580.8 1200.1 581.5 1200.5 582.3 1200.8 583.0 1201.2 583.8 1201.6 584.7 1201.9 585.6 1202.3 586.7 1202.5 587.5 1202.8 588.3 1203.0 589.3 1203.2 590.3 1203.5 591.4 1203.7 592.5 1204.0 593.6 1204.2 594.7 1204.4 595.8 1204.7 596.9 1204.9 597.9 1205.1 598.8 1205.4 599.7 1205.6 600.4 1205.9 601.1 1206.1 601.6 1206.7 602.7 1207.3 603.8 1207.9 604.7 1208.6 605.4 1209.2 605.9 1209.8 606.1 1210.6 606.0 1211.4 605.8 1212.2 605.3 1213.1 604.6 1213.9 603.9 1214.7 603.6 1215.5 603.8 1216.4 604.2 1217.2 604.7 1218.0 605.4 1218.9 606.0 1219.7 606.6 1220.5 607.1 1221.4 607.6 1222.2 608.2 1223.0 608.7 1223.9 609.1 1224.7 609.5 1225.6 609.8 1226.5 610.1 1227.5 610.4 1228.4 610.6 1229.3 610.8 1230.2 611.0 1231.2 611.3 1232.1 611.5 1233.0 611.7 1234.0 612.0 1234.9 612.2 1235.8 612.4 1236.8 612.6 1237.7 612.9 1238.7 613.2 1239.6 613.5 1240.4 613.9 1241.1 614.4 1241.9 614.9 1242.7 615.5 1243.5 616.1 1244.2 616.6 1245.0 616.9 1245.8 617.0 1246.6 617.0 1247.4 616.9 1248.2 616.7 1249.1 616.4 1249.9 616.1 1250.7 616.0 1251.7 616.1 1252.6 616.3 1253.6 616.7 1254.6 617.0 1255.5 617.3 1256.5 617.5 1257.5 617.6 1258.4 617.7 1259.4 617.7 1260.2 617.7 1261.1 617.6 1261.9 617.5 1262.7 617.4 1263.6 617.3 1264.4 617.2 1265.2 617.3 1266.0 617.6 1266.8 617.9 1267.7 618.3 1268.5 618.7 1269.3 619.0 1270.2 619.2 1271.1 619.5 1272.0 619.7 1272.8 619.9 1273.7 620.1 1274.6 620.2 1275.5 620.2 1276.4 620.1 1277.3 620.0 1278.2 619.6 1279.1 619.2 1280.0 619.0 1280.8 619.1 1281.7 619.5 1282.5 620.0 1283.4 620.5 1284.2 620.9 1285.0 621.3 1285.9 621.7 1286.7 622.1 1287.5 622.4 1288.4 622.6 1289.2 622.7 1290.0 622.6 1290.8 622.4 1291.7 622.1 1292.5 621.5 1293.3 620.9 1294.1 620.7 1295.0 620.9 1295.9 621.5 1296.8 622.2 1297.6 622.8 1298.5 623.2 1299.4 623.3 1300.3 623.4 1300.6 623.3 1300.8 623.1 1301.1 622.8 1301.4 622.4 1301.6 621.9 1301.9 621.1 1302.2 620.1 1302.4 619.0 1302.7 617.6 1302.9 616.0 1303.2 614.3 1303.5 612.5 1303.7 610.9 1304.0 609.4 1304.3 608.3 1304.5 607.6 1304.8 607.3 1305.1 607.6 1305.4 608.5 1305.8 609.8 1306.1 611.4 1306.4 613.1 1306.7 614.6 1307.1 615.9 1307.4 617.0 1307.7 617.8 1308.0 618.3 1308.4 618.7 1308.7 618.9 1309.0 619.0 1309.8 619.2 1310.7 619.4 1311.5 619.5 1312.3 619.6 1313.2 619.7 1314.0 619.7 1314.5 619.5 1315.0 619.0 1315.5 617.9 1316.0 616.6 1316.5 616.0 1317.1 616.7 1317.8 618.0 1318.4 618.8 1319.0 619.0 1319.6 618.9 1320.3 618.4 1320.9 617.6 1321.6 616.5 1322.2 616.0 1322.8 616.3 1323.4 617.2 1324.0 618.4 1324.6 619.8 1325.2 621.1 1325.9 622.3 1326.5 623.1 1327.1 623.7 1327.7 624.1 1328.3 624.3 1328.9 624.4 1329.6 624.3 1330.4 624.1 1331.1 623.8 1331.9 623.3 1332.6 622.7 1332.7 622.6 1332.7 622.5 1332.8 622.3 1332.8 622.2 1332.9 622.0 1332.9 621.9 1333.0 621.7 1333.0 621.5 1333.1 621.3 1333.1 621.0 1333.2 620.7 1333.2 620.5 1333.3 620.1 1333.3 619.8 1333.4 619.4 1333.5 619.0 1333.5 618.6 1333.6 618.1 1333.6 617.6 1333.7 617.1 1333.7 616.5 1333.8 615.9 1333.8 615.3 1333.9 614.6 1333.9 613.9 1334.0 613.1 1334.0 612.3 1334.1 611.4 1334.1 610.5 1334.2 609.5 1334.2 608.5 1334.3 607.4 1334.4 606.3 1334.4 605.1 1334.5 603.9 1334.5 602.6 1334.6 601.3 1334.6 599.9 1334.7 598.5 1334.7 597.0 1334.8 595.5 1334.8 593.9 1334.9 592.3 1334.9 590.7 1335.0 589.0 1335.0 587.3 1335.1 585.6 1335.2 583.8 1335.2 582.0 1335.3 580.2 1335.3 578.4 1335.4 576.5 1335.4 574.7 1335.5 572.9 1335.5 571.0 1335.6 569.2 1335.6 567.4 1335.7 565.7 1335.7 563.9 1335.8 562.2 1335.8 560.6 1335.9 559.0 1335.9 557.4 1336.0 555.9 1336.1 554.5 1336.1 553.1 1336.2 551.8 1336.2 550.6 1336.3 549.5 1336.3 548.5 1336.4 547.6 1336.4 546.8 1336.5 546.0 1336.5 545.4 1336.6 544.9 1336.6 544.5 1336.7 544.2 1336.7 544.1 1336.8 544.0 1336.9 544.1 1337.0 544.2 1337.0 544.6 1337.1 545.0 1337.2 545.5 1337.3 546.2 1337.3 547.0 1337.4 547.9 1337.5 548.8 1337.6 549.9 1337.7 551.1 1337.7 552.4 1337.8 553.8 1337.9 555.2 1338.0 556.7 1338.0 558.3 1338.1 559.9 1338.2 561.5 1338.3 563.3 1338.4 565.0 1338.4 566.8 1338.5 568.6 1338.6 570.4 1338.7 572.2 1338.8 574.1 1338.8 575.9 1338.9 577.7 1339.0 579.5 1339.1 581.3 1339.1 583.0 1339.2 584.7 1339.3 586.4 1339.4 588.1 1339.5 589.7 1339.5 591.3 1339.6 592.8 1339.7 594.2 1339.8 595.7 1339.8 597.0 1339.9 598.3 1340.0 599.6 1340.1 600.8 1340.2 601.9 1340.2 603.0 1340.3 604.1 1340.4 605.0 1340.5 606.0 1340.5 606.8 1340.6 607.7 1340.7 608.4 1340.8 609.2 1340.9 609.8 1340.9 610.5 1341.0 611.1 1341.1 611.6 1341.2 612.1 1341.3 612.6 1341.3 613.0 1341.4 613.4 1341.5 613.8 1341.6 614.1 1341.6 614.5 1341.7 614.7 1341.8 615.0 1341.9 615.2 1342.0 615.5 1342.0 615.7 1342.1 615.8 1342.2 616.0 1342.3 616.1 1342.3 616.3 1342.4 616.4 1342.5 616.5 1343.3 617.1 1344.0 617.5 1344.8 617.8 1345.5 618.1 1346.3 618.5 1347.1 619.2 1347.9 619.9 1348.7 620.2 1348.7 620.1 1348.8 620.0 1348.8 619.9 1348.8 619.7 1348.8 619.6 1348.9 619.5 1348.9 619.3 1348.9 619.2 1349.0 619.0 1349.0 618.8 1349.0 618.6 1349.1 618.4 1349.1 618.2 1349.1 618.0 1349.1 617.8 1349.2 617.6 1349.2 617.3 1349.2 617.0 1349.3 616.7 1349.3 616.4 1349.3 616.1 1349.3 615.8 1349.4 615.5 1349.4 615.1 1349.4 614.7 1349.5 614.3 1349.5 613.9 1349.5 613.5 1349.5 613.0 1349.6 612.5 1349.6 612.1 1349.6 611.5 1349.7 611.0 1349.7 610.4 1349.7 609.9 1349.8 609.2 1349.8 608.6 1349.8 608.0 1349.8 607.3 1349.9 606.6 1349.9 605.8 1349.9 605.1 1350.0 604.3 1350.0 603.4 1350.0 602.6 1350.0 601.7 1350.1 600.8 1350.1 599.9 1350.1 598.9 1350.2 597.9 1350.2 596.9 1350.2 595.8 1350.2 594.7 1350.3 593.6 1350.3 592.5 1350.3 591.3 1350.4 590.1 1350.4 588.8 1350.4 587.6 1350.5 586.3 1350.5 584.9 1350.5 583.6 1350.5 582.2 1350.6 580.8 1350.6 579.3 1350.6 577.8 1350.7 576.3 1350.7 574.8 1350.7 573.2 1350.7 571.6 1350.8 570.0 1350.8 568.4 1350.8 566.7 1350.9 565.1 1350.9 563.4 1350.9 561.6 1351.0 559.9 1351.0 558.2 1351.0 556.4 1351.0 554.6 1351.1 552.8 1351.1 551.0 1351.1 549.2 1351.2 547.4 1351.2 545.6 1351.2 543.7 1351.2 541.9 1351.3 540.1 1351.3 538.3 1351.3 536.5 1351.4 534.6 1351.4 532.8 1351.4 531.0 1351.4 529.3 1351.5 527.5 1351.5 525.8 1351.5 524.0 1351.6 522.3 1351.6 520.7 1351.6 519.0 1351.7 517.4 1351.7 515.8 1351.7 514.2 1351.7 512.7 1351.8 511.2 1351.8 509.7 1351.8 508.3 1351.9 507.0 1351.9 505.7 1351.9 504.4 1351.9 503.2 1352.0 502.0 1352.0 500.9 1352.0 499.8 1352.1 498.8 1352.1 497.8 1352.1 496.9 1352.1 496.1 1352.2 495.3 1352.2 494.6 1352.2 494.0 1352.3 493.4 1352.3 492.9 1352.3 492.4 1352.4 492.1 1352.4 491.8 1352.4 491.5 1352.4 491.3 1352.5 491.2 1352.5 491.2 1352.5 491.2 1352.6 491.3 1352.6 491.5 1352.7 491.8 1352.7 492.1 1352.8 492.5 1352.8 492.9 1352.9 493.5 1352.9 494.0 1353.0 494.7 1353.0 495.4 1353.1 496.2 1353.1 497.1 1353.2 498.0 1353.2 498.9 1353.3 500.0 1353.3 501.1 1353.4 502.2 1353.4 503.4 1353.5 504.6 1353.5 505.9 1353.6 507.3 1353.6 508.7 1353.7 510.1 1353.7 511.6 1353.8 513.1 1353.8 514.7 1353.9 516.2 1353.9 517.9 1354.0 519.5 1354.0 521.2 1354.0 522.9 1354.1 524.6 1354.1 526.4 1354.2 528.1 1354.2 529.9 1354.3 531.7 1354.3 533.5 1354.4 535.3 1354.4 537.2 1354.5 539.0 1354.5 540.8 1354.6 542.7 1354.6 544.5 1354.7 546.3 1354.7 548.2 1354.8 550.0 1354.8 551.8 1354.9 553.6 1354.9 555.4 1355.0 557.2 1355.0 558.9 1355.1 560.7 1355.1 562.4 1355.2 564.1 1355.2 565.8 1355.3 567.5 1355.3 569.1 1355.4 570.8 1355.4 572.4 1355.5 573.9 1355.5 575.5 1355.6 577.0 1355.6 578.5 1355.6 579.9 1355.7 581.4 1355.7 582.8 1355.8 584.1 1355.8 585.5 1355.9 586.8 1355.9 588.1 1356.0 589.3 1356.0 590.5 1356.1 591.7 1356.1 592.9 1356.2 594.0 1356.2 595.1 1356.3 596.1 1356.3 597.2 1356.4 598.2 1356.4 599.1 1356.5 600.0 1356.5 601.0 1356.6 601.8 1356.6 602.7 1356.7 603.5 1356.7 604.3 1356.8 605.0 1356.8 605.8 1356.9 606.5 1356.9 607.1 1357.0 607.8 1357.0 608.4 1357.1 609.0 1357.1 609.6 1357.2 610.2 1357.2 610.7 1357.2 611.2 1357.3 611.7 1357.3 612.1 1357.4 612.6 1357.4 613.0 1357.5 613.4 1357.5 613.8 1357.6 614.2 1357.6 614.5 1357.7 614.9 1357.7 615.2 1357.8 615.5 1357.8 615.8 1357.9 616.1 1357.9 616.3 1358.0 616.6 1358.0 616.8 1358.1 617.0 1358.1 617.2 1358.2 617.4 1358.2 617.6 1358.3 617.8 1358.3 618.0 1358.4 618.1 1358.4 618.3 1358.5 618.4 1358.5 618.5 1358.6 618.7 1358.6 618.8 1358.7 618.9 1358.7 619.0 1359.2 620.3 1359.8 621.6 1360.3 622.6 1360.9 623.6 1361.4 624.4 1362.0 625.0 1362.5 625.5 1363.1 625.8 1363.6 625.9 1363.8 625.8 1363.9 625.6 1364.1 625.5 1364.2 625.2 1364.4 625.0 1364.5 624.6 1364.7 624.3 1364.8 623.8 1365.0 623.2 1365.1 622.6 1365.3 621.8 1365.4 621.0 1365.6 620.0 1365.7 618.9 1365.9 617.6 1366.0 616.3 1366.2 614.9 1366.3 613.3 1366.5 611.6 1366.6 609.9 1366.8 608.1 1366.9 606.3 1367.1 604.5 1367.2 602.7 1367.4 601.0 1367.5 599.4 1367.7 597.9 1367.8 596.6 1368.0 595.5 1368.1 594.6 1368.3 593.9 1368.4 593.5 1368.6 593.4 1368.8 593.6 1368.9 594.0 1369.1 594.8 1369.2 595.8 1369.4 597.0 1369.5 598.5 1369.7 600.0 1369.9 601.7 1370.0 603.5 1370.2 605.2 1370.3 607.0 1370.5 608.6 1370.6 610.2 1370.8 611.7 1371.0 613.1 1371.1 614.3 1371.3 615.3 1371.4 616.3 1371.6 617.1 1371.7 617.8 1371.9 618.3 1372.1 618.8 1372.2 619.2 1372.4 619.5 1372.5 619.8 1372.7 619.9 1372.8 620.1 1373.0 620.2 1373.2 620.1 1373.3 619.9 1373.5 619.7 1373.6 619.3 1373.8 618.9 1373.9 618.3 1374.0 617.5 1374.2 616.5 1374.3 615.4 1374.5 614.0 1374.7 612.5 1374.8 610.9 1375.0 609.1 1375.1 607.3 1375.2 605.6 1375.4 604.0 1375.5 602.7 1375.7 601.7 1375.8 601.0 1376.0 600.8 1376.2 601.0 1376.4 601.5 1376.6 602.4 1376.8 603.5 1376.9 604.9 1377.1 606.4 1377.3 608.1 1377.5 609.8 1377.7 611.5 1377.9 613.2 1378.1 614.8 1378.2 616.2 1378.4 617.6 1378.6 618.7 1378.8 619.7 1379.0 620.6 1379.2 621.3 1379.4 621.8 1379.6 622.3 1379.8 622.6 1379.9 622.9 1380.1 623.1 1380.3 623.3 1380.5 623.4 1381.4 623.4 1382.3 623.3 1383.2 623.2 1384.2 623.1 1385.1 622.9 1386.0 622.7 1386.7 622.4 1387.5 622.0 1388.2 621.5 1389.0 621.1 1389.7 620.9 1390.7 620.9 1391.6 620.9 1392.6 620.9 1393.6 620.9 1394.5 620.9 1395.5 620.9 1396.5 620.9 1397.4 620.9 1398.4 620.9 1399.3 621.0 1400.2 621.1 1401.2 621.3 1402.1 621.4 1402.6 621.3 1403.2 620.9 1403.7 620.2 1404.2 619.1 1404.7 617.7 1405.3 616.5 1405.8 616.0 1406.4 616.4 1407.0 617.2 1407.7 617.6 1408.3 617.7" fill="none" stroke="#000" stroke-width="2.0" stroke-linejoin="round"/>
<rect x="902.40" y="192.50" width="275.30" height="117.80" fill="none" stroke="#44598a" stroke-width="5.00" stroke-linejoin="round"/>
<rect x="920.80" y="210.60" width="25.10" height="90.90" fill="none" stroke="#d98c27" stroke-width="2.30" stroke-linejoin="miter"/>
<rect x="1015.30" y="277.00" width="16.80" height="22.90" fill="none" stroke="#6690cc" stroke-width="1.90" stroke-linejoin="miter"/>
<rect x="1045.10" y="291.20" width="15.80" height="10.70" fill="none" stroke="#aec996" stroke-width="1.90" stroke-linejoin="miter"/>
<rect x="1143.80" y="239.50" width="17.90" height="45.50" fill="none" stroke="#cf9de8" stroke-width="2.00" stroke-linejoin="miter"/>
<rect x="854.90" y="512.20" width="306.50" height="121.80" fill="none" stroke="#44598a" stroke-width="5.00" stroke-linejoin="round"/>
<rect x="871.10" y="570.20" width="31.10" height="46.00" fill="none" stroke="#d98c27" stroke-width="2.40" stroke-linejoin="miter"/>
<rect x="976.00" y="587.20" width="24.30" height="24.70" fill="none" stroke="#6690cc" stroke-width="2.00" stroke-linejoin="miter"/>
<line x1="1034.50" y1="594.60" x2="1056.20" y2="594.60" stroke="#aec996" stroke-width="1.90"/>
<line x1="1034.50" y1="614.60" x2="1056.20" y2="614.60" stroke="#aec996" stroke-width="1.90"/>
<rect x="1032.70" y="512.10" width="25.30" height="121.30" fill="none" stroke="#d20000" stroke-width="3.80" stroke-linejoin="miter"/>
<rect x="1121.20" y="537.10" width="21.70" height="50.60" fill="none" stroke="#cf9de8" stroke-width="2.00" stroke-linejoin="miter"/>
<rect x="1602.0" y="289.1" width="7.7" height="206" fill="#000"/>
<polygon points="1594.7,494 1617.1,494 1605.8,516.2" fill="#000"/>
<rect x="1100.3" y="372.8" width="7.6" height="54.4" fill="#000"/>
<polygon points="1092.8,426.2 1115.5,426.2 1104.1,448.3" fill="#000"/>
</g>
<g style="font-family:'Liberation Sans', Arial, sans-serif;font-kerning:none;font-variant-ligatures:none">
<text transform="scale(1,0.7900)" x="62.21" y="66.32" font-size="27.18" font-weight="bold" fill="#000" textLength="29.17" lengthAdjust="spacingAndGlyphs">80</text>
<text transform="scale(1,0.7900)" x="62.21" y="157.58" font-size="27.18" font-weight="bold" fill="#000" textLength="29.17" lengthAdjust="spacingAndGlyphs">60</text>
<text transform="scale(1,0.7900)" x="62.21" y="248.72" font-size="27.18" font-weight="bold" fill="#000" textLength="29.17" lengthAdjust="spacingAndGlyphs">40</text>
<text transform="scale(1,0.7900)" x="62.21" y="339.99" font-size="27.18" font-weight="bold" fill="#000" textLength="29.17" lengthAdjust="spacingAndGlyphs">20</text>
<text transform="scale(1,0.7900)" x="76.79" y="431.38" font-size="27.18" font-weight="bold" fill="#000" textLength="14.58" lengthAdjust="spacingAndGlyphs">0</text>
<text transform="scale(1,0.7900)" x="103.28" y="466.95" font-size="27.35" font-weight="bold" fill="#000" textLength="14.68" lengthAdjust="spacingAndGlyphs">0</text>
<text transform="scale(1,0.7900)" x="401.14" y="466.95" font-size="27.35" font-weight="bold" fill="#000" textLength="29.36" lengthAdjust="spacingAndGlyphs">20</text>
<text transform="scale(1,0.7900)" x="706.54" y="466.95" font-size="27.35" font-weight="bold" fill="#000" textLength="29.36" lengthAdjust="spacingAndGlyphs">40</text>
<text transform="scale(1,0.7900)" x="1011.40" y="466.95" font-size="27.35" font-weight="bold" fill="#000" textLength="29.36" lengthAdjust="spacingAndGlyphs">60</text>
<text transform="scale(1,0.7900)" x="1316.60" y="466.95" font-size="27.35" font-weight="bold" fill="#000" textLength="29.36" lengthAdjust="spacingAndGlyphs">80</text>
<text transform="scale(1,0.7900)" x="687.68" y="511.14" font-size="29.62" font-weight="bold" fill="#000" textLength="143.74" lengthAdjust="spacingAndGlyphs">Time (min)</text>
<text transform="translate(42.80,254.10) rotate(-90)" x="0" y="0" font-size="30.23" font-weight="bold" fill="#000" textLength="165.41" lengthAdjust="spacingAndGlyphs">Intensity (mAU)</text>
<text x="42.09" y="445.53" font-size="27.40" font-weight="bold" fill="#000" textLength="51.46" lengthAdjust="spacingAndGlyphs">0.06</text>
<text x="41.28" y="536.13" font-size="27.40" font-weight="bold" fill="#000" textLength="51.46" lengthAdjust="spacingAndGlyphs">0.04</text>
<text x="42.20" y="626.73" font-size="27.40" font-weight="bold" fill="#000" textLength="51.46" lengthAdjust="spacingAndGlyphs">0.02</text>
<text x="42.22" y="717.43" font-size="27.40" font-weight="bold" fill="#000" textLength="51.46" lengthAdjust="spacingAndGlyphs">0.00</text>
<text x="105.34" y="752.74" font-size="27.12" font-weight="bold" fill="#000" textLength="14.55" lengthAdjust="spacingAndGlyphs">0</text>
<text x="464.22" y="752.74" font-size="27.12" font-weight="bold" fill="#000" textLength="29.11" lengthAdjust="spacingAndGlyphs">50</text>
<text x="822.24" y="752.80" font-size="27.60" font-weight="bold" fill="#000" clip-path="url(#c1_0)">1</text>
<text x="836.40" y="752.80" font-size="27.60" font-weight="bold" fill="#000">0</text>
<text x="850.95" y="752.80" font-size="27.60" font-weight="bold" fill="#000">0</text>
<text x="1188.39" y="752.80" font-size="27.60" font-weight="bold" fill="#000" clip-path="url(#c1_1)">1</text>
<text x="1202.78" y="752.80" font-size="27.60" font-weight="bold" fill="#000">5</text>
<text x="1216.95" y="752.80" font-size="27.60" font-weight="bold" fill="#000">0</text>
<text x="688.38" y="796.70" font-size="29.65" font-weight="bold" fill="#000" textLength="144.24" lengthAdjust="spacingAndGlyphs">Time (min)</text>
<text transform="translate(23.40,664.71) rotate(-90)" x="0" y="0" font-size="28.34" font-weight="bold" fill="#000" textLength="185.73" lengthAdjust="spacingAndGlyphs">Intensity (AU)</text>
<text x="1.72" y="28.80" font-size="38.81" font-weight="bold" fill="#000" textLength="28.31" lengthAdjust="spacingAndGlyphs">A</text>
<text x="2.72" y="427.90" font-size="38.95" font-weight="bold" fill="#000" textLength="26.76" lengthAdjust="spacingAndGlyphs">B</text>
<text x="953.07" y="240.13" font-size="38.12" font-weight="bold" fill="#000" textLength="20.34" lengthAdjust="spacingAndGlyphs">5</text>
<text x="1012.89" y="272.90" font-size="37.81" font-weight="bold" fill="#000" textLength="21.02" lengthAdjust="spacingAndGlyphs">2</text>
<text x="1142.16" y="235.88" font-size="37.49" font-weight="bold" fill="#000" textLength="20.36" lengthAdjust="spacingAndGlyphs">3</text>
<text x="875.86" y="562.83" font-size="37.98" font-weight="bold" fill="#000" textLength="20.57" lengthAdjust="spacingAndGlyphs">5</text>
<text x="976.69" y="579.60" font-size="38.24" font-weight="bold" fill="#000" textLength="21.02" lengthAdjust="spacingAndGlyphs">2</text>
<text x="1096.58" y="546.49" font-size="36.65" font-weight="bold" fill="#000" textLength="19.80" lengthAdjust="spacingAndGlyphs">3</text>
<text x="478.17" y="99.70" font-size="38.20" font-weight="bold" fill="#000" clip-path="url(#c1_2)">1</text>
<text x="497.91" y="99.70" font-size="38.20" font-weight="bold" fill="#000">0</text>
<text x="432.27" y="518.60" font-size="38.20" font-weight="bold" fill="#000" clip-path="url(#c1_3)">1</text>
<text x="451.96" y="518.60" font-size="38.20" font-weight="bold" fill="#000">0</text>
<text x="1043.21" y="286.40" font-size="38.90" font-weight="bold" fill="#000" clip-path="url(#c1_4)">1</text>
<text x="1035.76" y="590.40" font-size="38.90" font-weight="bold" fill="#000" clip-path="url(#c1_5)">1</text>
<text x="943.73" y="178.90" font-size="27.47" font-weight="bold" fill="#2d4a7b" textLength="62.06" lengthAdjust="spacingAndGlyphs">Zone</text>
<text x="1012.43" y="178.90" font-size="27.47" font-weight="bold" fill="#2d4a7b" textLength="25.92" lengthAdjust="spacingAndGlyphs">of</text>
<text x="1044.20" y="178.90" font-size="27.47" font-weight="bold" fill="#2d4a7b" textLength="98.23" lengthAdjust="spacingAndGlyphs">interest</text>
<text x="904.52" y="496.10" font-size="27.47" font-weight="bold" fill="#2d4a7b" textLength="62.47" lengthAdjust="spacingAndGlyphs">Zone</text>
<text x="973.63" y="496.10" font-size="27.47" font-weight="bold" fill="#2d4a7b" textLength="25.81" lengthAdjust="spacingAndGlyphs">of</text>
<text x="1005.40" y="496.10" font-size="27.47" font-weight="bold" fill="#2d4a7b" textLength="98.13" lengthAdjust="spacingAndGlyphs">interest</text>
<text x="1438.90" y="151.10" font-size="27.47" font-weight="bold" fill="#000" textLength="131.07" lengthAdjust="spacingAndGlyphs">Optimised</text>
<text x="1574.94" y="151.10" font-size="27.47" font-weight="bold" fill="#000" textLength="125.44" lengthAdjust="spacingAndGlyphs">Analytical</text>
<text x="1706.74" y="151.10" font-size="27.47" font-weight="bold" fill="#000" textLength="63.29" lengthAdjust="spacingAndGlyphs">HPLC</text>
<text x="1483.54" y="187.60" font-size="27.47" font-weight="bold" fill="#000" textLength="95.16" lengthAdjust="spacingAndGlyphs">Particle</text>
<text x="1584.61" y="187.60" font-size="27.47" font-weight="bold" fill="#000" textLength="56.33" lengthAdjust="spacingAndGlyphs">size:</text>
<text x="1645.85" y="187.60" font-size="27.47" font-weight="bold" fill="#000" textLength="30.93" lengthAdjust="spacingAndGlyphs">15</text>
<text x="1683.61" y="187.60" font-size="27.47" font-weight="bold" fill="#000" textLength="42.39" lengthAdjust="spacingAndGlyphs">µm</text>
<text x="1483.54" y="579.20" font-size="27.47" font-weight="bold" fill="#000" textLength="95.16" lengthAdjust="spacingAndGlyphs">Particle</text>
<text x="1584.61" y="579.20" font-size="27.47" font-weight="bold" fill="#000" textLength="56.33" lengthAdjust="spacingAndGlyphs">size:</text>
<text x="1645.85" y="579.20" font-size="27.47" font-weight="bold" fill="#000" textLength="30.93" lengthAdjust="spacingAndGlyphs">15</text>
<text x="1683.61" y="579.20" font-size="27.47" font-weight="bold" fill="#000" textLength="42.39" lengthAdjust="spacingAndGlyphs">µm</text>
<text x="1468.12" y="237.80" font-size="27.47" font-weight="bold" fill="#000" textLength="44.58" lengthAdjust="spacingAndGlyphs">100</text>
<text x="1519.96" y="237.80" font-size="27.47" font-weight="bold" fill="#000" textLength="33.31" lengthAdjust="spacingAndGlyphs">µg</text>
<text x="1558.16" y="237.80" font-size="27.47" font-weight="normal" fill="#000" textLength="70.59" lengthAdjust="spacingAndGlyphs">liquid</text>
<text x="1633.23" y="237.80" font-size="27.47" font-weight="normal" fill="#000" textLength="107.98" lengthAdjust="spacingAndGlyphs">injection</text>
<text x="1464.88" y="274.20" font-size="27.47" font-weight="normal" fill="#000" textLength="36.33" lengthAdjust="spacingAndGlyphs">UV</text>
<text x="1508.37" y="274.20" font-size="27.47" font-weight="normal" fill="#000" textLength="118.63" lengthAdjust="spacingAndGlyphs">detection</text>
<text x="1633.30" y="274.20" font-size="27.47" font-weight="normal" fill="#000" textLength="54.87" lengthAdjust="spacingAndGlyphs">(270</text>
<text x="1694.80" y="274.20" font-size="27.47" font-weight="normal" fill="#000" textLength="49.38" lengthAdjust="spacingAndGlyphs">nm)</text>
<text x="1464.88" y="665.80" font-size="27.47" font-weight="normal" fill="#000" textLength="36.33" lengthAdjust="spacingAndGlyphs">UV</text>
<text x="1508.37" y="665.80" font-size="27.47" font-weight="normal" fill="#000" textLength="118.63" lengthAdjust="spacingAndGlyphs">detection</text>
<text x="1633.30" y="665.80" font-size="27.47" font-weight="normal" fill="#000" textLength="54.87" lengthAdjust="spacingAndGlyphs">(270</text>
<text x="1694.80" y="665.80" font-size="27.47" font-weight="normal" fill="#000" textLength="49.38" lengthAdjust="spacingAndGlyphs">nm)</text>
<text x="1463.23" y="542.70" font-size="27.47" font-weight="bold" fill="#000" textLength="65.32" lengthAdjust="spacingAndGlyphs">Flash</text>
<text x="1533.72" y="542.70" font-size="27.47" font-weight="bold" fill="#000" textLength="211.62" lengthAdjust="spacingAndGlyphs">Chromatography</text>
<text x="1442.32" y="629.40" font-size="27.47" font-weight="bold" fill="#000" textLength="45.91" lengthAdjust="spacingAndGlyphs">700</text>
<text x="1494.01" y="629.40" font-size="27.47" font-weight="bold" fill="#000" textLength="40.70" lengthAdjust="spacingAndGlyphs">mg</text>
<text x="1539.99" y="629.40" font-size="27.47" font-weight="normal" fill="#000" textLength="103.76" lengthAdjust="spacingAndGlyphs">dry-load</text>
<text x="1648.62" y="629.40" font-size="27.47" font-weight="normal" fill="#000" textLength="108.39" lengthAdjust="spacingAndGlyphs">injection</text>
<text x="985.41" y="667.80" font-size="28.05" font-weight="bold" fill="#d20000" textLength="43.49" lengthAdjust="spacingAndGlyphs">F51</text>
<text x="1036.04" y="667.80" font-size="28.05" font-weight="bold" fill="#d20000" textLength="16.07" lengthAdjust="spacingAndGlyphs">+</text>
<text x="1058.60" y="667.80" font-size="28.05" font-weight="bold" fill="#d20000" textLength="43.82" lengthAdjust="spacingAndGlyphs">F52</text>
<text x="1152.30" y="422.20" font-size="42.59" font-weight="bold" fill="#000" textLength="204.12" lengthAdjust="spacingAndGlyphs">GRADIENT</text>
<text x="1367.99" y="422.20" font-size="42.59" font-weight="bold" fill="#000" textLength="200.87" lengthAdjust="spacingAndGlyphs">TRANSFER</text>
</g>
</svg>
</body></html>
